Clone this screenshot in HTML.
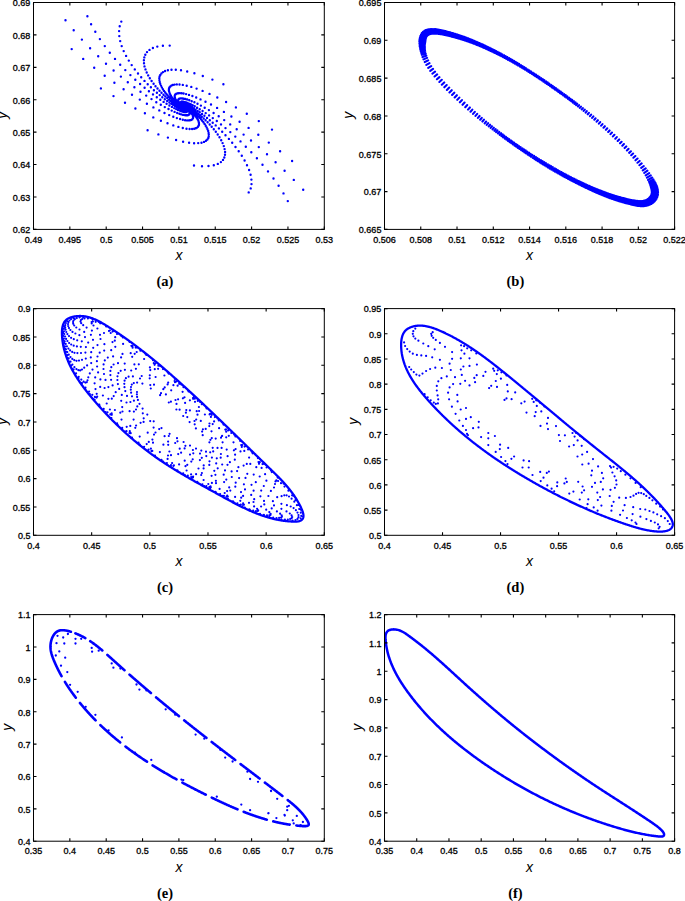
<!DOCTYPE html>
<html><head><meta charset="utf-8"><style>
html,body{margin:0;padding:0;background:#fff;width:685px;height:901px;overflow:hidden}
svg{display:block}
text{font-family:"Liberation Sans",sans-serif;fill:#000}
.tl text{font-size:9px;stroke:#000;stroke-width:0.3px}
.al{font-size:14px;font-style:italic}
.cap{font-family:"Liberation Serif",serif;font-weight:bold;font-size:14.5px}
</style></head><body>
<svg width="685" height="901" viewBox="0 0 685 901">
<clipPath id="clipa"><rect x="33.50" y="2.50" width="290.80" height="226.90"/></clipPath>
<g clip-path="url(#clipa)"><path d="M65.5 20.2h0M73.7 30.2h0M81.9 39.6h0M90.1 48.3h0M98.2 56.3h0M106.0 63.7h0M113.6 70.5h0M120.9 76.6h0M127.8 82.2h0M134.4 87.2h0M140.5 91.7h0M146.2 95.6h0M151.5 99.1h0M156.3 102.2h0M160.8 104.8h0M164.8 107.1h0M168.5 109.0h0M171.7 110.6h0M174.6 111.9h0M177.2 113.0h0M179.5 113.8h0M181.4 114.4h0M183.1 114.9h0M184.6 115.1h0M185.8 115.3h0M186.8 115.3h0M187.6 115.2h0M188.3 115.1h0M188.8 114.8h0M189.1 114.5h0M189.4 114.2h0M189.5 113.8h0M189.6 113.4h0M189.6 113.0h0M189.5 112.6h0M189.4 112.2h0M189.2 111.8h0M189.0 111.3h0M188.7 110.9h0M188.5 110.6h0M188.2 110.2h0M187.9 109.8h0M187.6 109.5h0M187.4 109.2h0M187.1 108.9h0M186.8 108.6h0M186.5 108.4h0M186.3 108.2h0M186.0 107.9h0M185.8 107.8h0M185.6 107.6h0M185.4 107.4h0M185.2 107.3h0M185.0 107.2h0M184.8 107.1h0M184.7 107.0h0M184.6 106.9h0M184.4 106.8h0M184.3 106.8h0M87.4 16.3h0M91.1 24.2h0M95.3 31.8h0M99.9 39.1h0M104.8 46.1h0M109.8 52.7h0M115.0 58.9h0M120.2 64.7h0M125.3 70.1h0M130.4 75.1h0M135.3 79.8h0M140.1 84.0h0M144.6 87.8h0M148.9 91.3h0M153.0 94.4h0M156.8 97.2h0M160.3 99.7h0M163.6 101.9h0M166.6 103.8h0M169.4 105.5h0M171.9 106.9h0M174.2 108.1h0M176.2 109.1h0M178.0 109.9h0M179.6 110.6h0M181.0 111.1h0M182.3 111.5h0M183.3 111.8h0M184.2 112.0h0M185.0 112.1h0M185.6 112.1h0M186.1 112.0h0M186.5 111.9h0M186.9 111.8h0M187.1 111.6h0M187.3 111.4h0M187.4 111.2h0M187.4 110.9h0M187.4 110.7h0M187.3 110.4h0M187.3 110.2h0M187.2 109.9h0M187.0 109.7h0M186.9 109.4h0M186.7 109.2h0M186.6 108.9h0M186.4 108.7h0M186.2 108.5h0M186.0 108.3h0M185.9 108.1h0M185.7 108.0h0M185.5 107.8h0M185.4 107.7h0M185.2 107.5h0M185.1 107.4h0M184.9 107.3h0M184.8 107.2h0M184.7 107.1h0M184.6 107.1h0M184.5 107.0h0M71.7 49.1h0M83.2 58.9h0M94.2 67.8h0M104.7 75.7h0M114.4 82.8h0M123.6 89.2h0M132.0 94.7h0M139.8 99.6h0M146.9 103.8h0M153.4 107.4h0M159.3 110.4h0M164.5 113.0h0M169.2 115.1h0M173.3 116.8h0M176.9 118.1h0M180.1 119.0h0M182.8 119.7h0M185.1 120.2h0M187.1 120.4h0M188.7 120.4h0M190.0 120.3h0M191.0 120.0h0M191.8 119.6h0M192.4 119.2h0M192.8 118.6h0M193.0 118.0h0M193.1 117.4h0M193.1 116.7h0M192.9 116.1h0M192.7 115.4h0M192.4 114.7h0M192.1 114.0h0M191.7 113.4h0M191.3 112.8h0M190.8 112.2h0M190.4 111.6h0M189.9 111.1h0M189.4 110.6h0M189.0 110.1h0M188.5 109.7h0M188.1 109.3h0M187.7 108.9h0M187.3 108.6h0M186.9 108.3h0M186.6 108.0h0M186.3 107.8h0M185.9 107.5h0M185.7 107.3h0M185.4 107.2h0M185.2 107.0h0M184.9 106.9h0M184.7 106.8h0M184.6 106.7h0M184.4 106.6h0M184.3 106.6h0M184.2 106.5h0M121.3 21.6h0M119.7 26.2h0M119.1 31.1h0M119.3 36.1h0M120.2 41.1h0M121.7 46.1h0M123.7 51.1h0M126.1 55.9h0M128.8 60.6h0M131.7 65.1h0M134.8 69.4h0M138.0 73.5h0M141.2 77.3h0M144.5 80.9h0M147.7 84.2h0M150.9 87.3h0M153.9 90.2h0M156.9 92.8h0M159.7 95.1h0M162.3 97.3h0M164.8 99.2h0M167.2 100.9h0M169.4 102.5h0M171.4 103.8h0M173.3 105.0h0M175.0 106.0h0M176.5 106.9h0M177.9 107.6h0M179.2 108.3h0M180.3 108.8h0M181.3 109.2h0M182.1 109.5h0M182.9 109.7h0M183.6 109.9h0M184.1 110.0h0M184.6 110.1h0M185.0 110.1h0M185.3 110.1h0M185.5 110.0h0M185.7 109.9h0M185.9 109.8h0M186.0 109.7h0M186.0 109.5h0M186.1 109.4h0M186.0 109.2h0M186.0 109.1h0M186.0 108.9h0M185.9 108.8h0M185.8 108.6h0M185.7 108.4h0M185.6 108.3h0M185.5 108.2h0M185.4 108.0h0M185.3 107.9h0M185.2 107.8h0M185.1 107.7h0M185.0 107.6h0M184.9 107.5h0M184.8 107.4h0M184.7 107.3h0M100.9 88.4h0M113.5 96.1h0M125.0 102.8h0M135.4 108.5h0M144.9 113.3h0M153.3 117.4h0M160.9 120.7h0M167.5 123.3h0M173.3 125.4h0M178.4 126.9h0M182.8 128.0h0M186.5 128.7h0M189.6 129.0h0M192.1 129.0h0M194.2 128.7h0M195.8 128.3h0M197.1 127.6h0M198.0 126.8h0M198.5 125.9h0M198.9 125.0h0M199.0 123.9h0M198.9 122.8h0M198.6 121.7h0M198.3 120.6h0M197.8 119.5h0M197.2 118.4h0M196.5 117.4h0M195.8 116.4h0M195.1 115.4h0M194.4 114.5h0M193.6 113.6h0M192.9 112.8h0M192.1 112.1h0M191.4 111.4h0M190.7 110.7h0M190.0 110.1h0M189.4 109.6h0M188.8 109.1h0M188.2 108.6h0M187.7 108.3h0M187.2 107.9h0M186.7 107.6h0M186.3 107.3h0M185.9 107.1h0M185.6 106.9h0M185.3 106.7h0M185.0 106.6h0M184.7 106.5h0M184.5 106.4h0M184.3 106.3h0M184.1 106.2h0M184.0 106.2h0M183.8 106.2h0M169.7 45.6h0M162.9 45.7h0M157.3 46.6h0M152.9 48.0h0M149.5 49.9h0M147.0 52.1h0M145.3 54.7h0M144.3 57.4h0M143.9 60.3h0M144.0 63.3h0M144.5 66.4h0M145.5 69.4h0M146.7 72.5h0M148.2 75.4h0M149.8 78.3h0M151.6 81.0h0M153.6 83.7h0M155.5 86.2h0M157.5 88.5h0M159.5 90.7h0M161.5 92.8h0M163.5 94.7h0M165.3 96.5h0M167.2 98.1h0M168.9 99.6h0M170.5 100.9h0M172.1 102.1h0M173.5 103.1h0M174.9 104.1h0M176.1 104.9h0M177.3 105.7h0M178.3 106.3h0M179.3 106.8h0M180.2 107.3h0M180.9 107.7h0M181.6 108.0h0M182.2 108.3h0M182.8 108.5h0M183.2 108.6h0M183.6 108.7h0M184.0 108.8h0M184.3 108.8h0M184.5 108.8h0M184.7 108.8h0M184.9 108.8h0M185.0 108.7h0M223.4 84.2h0M212.4 79.6h0M202.8 76.0h0M194.4 73.3h0M187.2 71.5h0M181.0 70.3h0M175.8 69.8h0M171.5 69.8h0M167.9 70.2h0M165.1 71.0h0M163.0 72.1h0M161.4 73.4h0M160.3 74.9h0M159.6 76.5h0M159.3 78.3h0M159.4 80.1h0M159.7 81.9h0M160.2 83.8h0M161.0 85.6h0M161.9 87.4h0M162.9 89.2h0M164.0 90.9h0M165.2 92.5h0M166.4 94.0h0M167.6 95.5h0M168.8 96.8h0M170.1 98.1h0M171.3 99.3h0M172.4 100.4h0M173.5 101.4h0M174.6 102.3h0M175.6 103.1h0M176.6 103.8h0M177.5 104.5h0M178.3 105.1h0M179.1 105.6h0M179.8 106.1h0M180.4 106.5h0M181.0 106.8h0M181.5 107.1h0M182.0 107.3h0M182.5 107.5h0M182.8 107.7h0M183.2 107.8h0M183.5 107.9h0M183.7 108.0h0M183.9 108.0h0M184.1 108.1h0M184.3 108.1h0M184.4 108.1h0M303.2 189.7h0M293.8 179.9h0M284.6 170.7h0M275.6 162.2h0M267.0 154.3h0M258.8 147.1h0M251.0 140.5h0M243.6 134.6h0M236.7 129.2h0M230.2 124.4h0M224.2 120.1h0M218.7 116.3h0M213.6 113.0h0M208.9 110.1h0M204.7 107.7h0M200.9 105.6h0M197.5 103.8h0M194.4 102.3h0M191.7 101.2h0M189.3 100.2h0M187.2 99.5h0M185.4 99.0h0M183.8 98.7h0M182.5 98.5h0M181.4 98.4h0M180.5 98.4h0M179.8 98.6h0M179.2 98.8h0M178.8 99.1h0M178.5 99.4h0M178.3 99.7h0M178.2 100.1h0M178.2 100.5h0M178.2 101.0h0M178.4 101.4h0M178.5 101.8h0M178.7 102.2h0M178.9 102.6h0M179.2 103.0h0M179.4 103.4h0M179.7 103.8h0M180.0 104.1h0M180.3 104.4h0M180.6 104.7h0M180.9 105.0h0M181.1 105.3h0M181.4 105.5h0M181.6 105.7h0M181.9 105.9h0M182.1 106.1h0M182.3 106.3h0M182.5 106.4h0M182.7 106.5h0M182.9 106.7h0M183.0 106.7h0M183.2 106.8h0M183.3 106.9h0M183.4 107.0h0M287.8 201.1h0M283.5 193.4h0M278.6 185.8h0M273.5 178.5h0M268.0 171.4h0M262.5 164.7h0M256.9 158.3h0M251.3 152.3h0M245.8 146.7h0M240.5 141.4h0M235.3 136.6h0M230.3 132.1h0M225.5 128.1h0M221.0 124.4h0M216.8 121.0h0M212.8 118.1h0M209.1 115.4h0M205.7 113.1h0M202.6 111.0h0M199.7 109.2h0M197.1 107.7h0M194.7 106.3h0M192.6 105.2h0M190.7 104.3h0M189.0 103.6h0M187.5 103.0h0M186.2 102.5h0M185.0 102.2h0M184.0 101.9h0M183.2 101.8h0M182.5 101.7h0M181.9 101.8h0M181.5 101.8h0M181.1 101.9h0M180.8 102.1h0M180.6 102.3h0M180.5 102.5h0M180.4 102.7h0M180.4 103.0h0M180.4 103.2h0M180.5 103.5h0M180.6 103.7h0M180.7 104.0h0M180.8 104.2h0M181.0 104.5h0M181.2 104.7h0M181.3 104.9h0M181.5 105.2h0M181.7 105.4h0M181.8 105.5h0M182.0 105.7h0M182.2 105.9h0M182.3 106.0h0M182.5 106.2h0M182.6 106.3h0M182.8 106.4h0M182.9 106.5h0M183.0 106.6h0M183.1 106.7h0M183.2 106.7h0M292.1 161.0h0M280.1 151.3h0M268.8 142.6h0M258.3 134.8h0M248.6 127.9h0M239.6 121.8h0M231.4 116.5h0M223.9 111.9h0M217.1 107.9h0M211.0 104.5h0M205.5 101.7h0M200.5 99.4h0M196.2 97.5h0M192.4 96.0h0M189.0 94.9h0M186.1 94.1h0M183.6 93.5h0M181.6 93.2h0M179.8 93.1h0M178.4 93.2h0M177.2 93.4h0M176.3 93.8h0M175.6 94.2h0M175.2 94.8h0M174.9 95.3h0M174.7 96.0h0M174.7 96.6h0M174.8 97.3h0M174.9 98.0h0M175.2 98.7h0M175.5 99.4h0M175.9 100.0h0M176.3 100.7h0M176.7 101.3h0M177.2 101.9h0M177.6 102.4h0M178.1 102.9h0M178.6 103.4h0M179.0 103.9h0M179.4 104.3h0M179.9 104.7h0M180.3 105.0h0M180.7 105.4h0M181.0 105.6h0M181.4 105.9h0M181.7 106.1h0M182.0 106.3h0M182.3 106.5h0M182.5 106.7h0M182.7 106.8h0M182.9 106.9h0M183.1 107.0h0M183.3 107.1h0M183.4 107.2h0M183.6 107.2h0M183.7 107.3h0M272.0 129.6h0M258.8 121.1h0M246.8 113.7h0M235.9 107.4h0M226.1 102.0h0M217.3 97.5h0M209.5 93.9h0M202.6 90.9h0M196.6 88.6h0M191.3 86.9h0M186.7 85.7h0M182.8 84.9h0M179.5 84.5h0M176.8 84.4h0M174.5 84.6h0M172.7 85.0h0M171.3 85.6h0M170.3 86.4h0M169.6 87.3h0M169.1 88.2h0M168.9 89.3h0M168.9 90.4h0M169.1 91.5h0M169.4 92.6h0M169.8 93.7h0M170.4 94.8h0M171.0 95.9h0M171.6 96.9h0M172.3 97.9h0M173.1 98.9h0M173.8 99.8h0M174.6 100.6h0M175.3 101.4h0M176.1 102.1h0M176.8 102.8h0M177.5 103.4h0M178.1 104.0h0M178.7 104.5h0M179.3 104.9h0M179.9 105.4h0M180.4 105.7h0M180.9 106.1h0M181.3 106.3h0M181.7 106.6h0M182.1 106.8h0M182.4 107.0h0M182.7 107.1h0M183.0 107.3h0M183.2 107.4h0M183.4 107.4h0M183.6 107.5h0M183.7 107.6h0M183.9 107.6h0M248.7 192.4h0M250.7 188.4h0M251.5 184.1h0M251.4 179.6h0M250.6 174.8h0M249.1 170.0h0M247.0 165.2h0M244.6 160.5h0M241.8 155.8h0M238.7 151.3h0M235.5 147.0h0M232.2 142.8h0M228.9 138.9h0M225.5 135.2h0M222.2 131.7h0M218.9 128.4h0M215.7 125.4h0M212.7 122.7h0M209.8 120.2h0M207.0 117.9h0M204.4 115.8h0M202.0 114.0h0M199.7 112.3h0M197.6 110.9h0M195.6 109.6h0M193.8 108.4h0M192.2 107.5h0M190.7 106.7h0M189.4 106.0h0M188.2 105.4h0M187.1 104.9h0M186.2 104.5h0M185.4 104.2h0M184.7 104.0h0M184.1 103.9h0M183.5 103.8h0M183.1 103.7h0M182.7 103.7h0M182.5 103.8h0M182.2 103.8h0M182.0 103.9h0M181.9 104.0h0M181.8 104.2h0M181.8 104.3h0M181.8 104.5h0M181.8 104.6h0M181.8 104.8h0M181.9 104.9h0M181.9 105.1h0M182.0 105.2h0M182.1 105.4h0M182.2 105.5h0M182.3 105.7h0M182.4 105.8h0M182.5 105.9h0M182.6 106.0h0M182.7 106.2h0M182.8 106.3h0M182.9 106.3h0M183.0 106.4h0M194.0 165.5h0M202.0 166.2h0M208.5 166.0h0M213.8 165.2h0M217.8 163.9h0M220.9 162.1h0M223.0 159.9h0M224.3 157.5h0M225.0 154.8h0M225.1 152.0h0M224.6 149.1h0M223.8 146.1h0M222.6 143.1h0M221.2 140.2h0M219.5 137.3h0M217.7 134.5h0M215.8 131.8h0M213.8 129.2h0M211.7 126.8h0M209.7 124.5h0M207.6 122.3h0M205.6 120.3h0M203.7 118.5h0M201.8 116.8h0M200.0 115.2h0M198.3 113.8h0M196.7 112.5h0M195.2 111.3h0M193.7 110.3h0M192.4 109.4h0M191.2 108.6h0M190.1 107.9h0M189.1 107.3h0M188.2 106.8h0M187.3 106.3h0M186.6 106.0h0M185.9 105.7h0M185.4 105.4h0M184.8 105.3h0M184.4 105.1h0M184.0 105.0h0M183.7 105.0h0M183.4 104.9h0M183.2 104.9h0M183.0 105.0h0M182.9 105.0h0M182.8 105.1h0M147.6 130.2h0M158.4 134.4h0M167.9 137.6h0M176.1 140.0h0M183.1 141.7h0M189.1 142.7h0M194.1 143.2h0M198.2 143.1h0M201.5 142.7h0M204.0 141.9h0M206.0 140.8h0M207.4 139.5h0M208.3 138.0h0M208.7 136.4h0M208.8 134.6h0M208.6 132.9h0M208.2 131.0h0M207.5 129.2h0M206.7 127.4h0M205.7 125.7h0M204.6 123.9h0M203.4 122.3h0M202.2 120.7h0M201.0 119.2h0M199.7 117.8h0M198.5 116.5h0M197.3 115.2h0M196.1 114.1h0M194.9 113.0h0M193.8 112.1h0M192.8 111.2h0M191.8 110.4h0M190.9 109.7h0M190.0 109.0h0M189.2 108.5h0M188.5 108.0h0M187.8 107.6h0M187.1 107.2h0M186.6 106.9h0M186.1 106.6h0M185.6 106.4h0M185.2 106.2h0M184.8 106.0h0M184.5 105.9h0M184.2 105.8h0M184.0 105.8h0M183.8 105.7h0M183.6 105.7h0M183.5 105.7h0" stroke="#0000ff" stroke-width="2.40" stroke-linecap="round" fill="none"/></g>
<path d="M33.50 229.40v-3.0M33.50 2.50v3.0M69.85 229.40v-3.0M69.85 2.50v3.0M106.20 229.40v-3.0M106.20 2.50v3.0M142.55 229.40v-3.0M142.55 2.50v3.0M178.90 229.40v-3.0M178.90 2.50v3.0M215.25 229.40v-3.0M215.25 2.50v3.0M251.60 229.40v-3.0M251.60 2.50v3.0M287.95 229.40v-3.0M287.95 2.50v3.0M324.30 229.40v-3.0M324.30 2.50v3.0M33.50 229.40h3.0M324.30 229.40h-3.0M33.50 196.99h3.0M324.30 196.99h-3.0M33.50 164.57h3.0M324.30 164.57h-3.0M33.50 132.16h3.0M324.30 132.16h-3.0M33.50 99.74h3.0M324.30 99.74h-3.0M33.50 67.33h3.0M324.30 67.33h-3.0M33.50 34.91h3.0M324.30 34.91h-3.0M33.50 2.50h3.0M324.30 2.50h-3.0" stroke="#000" stroke-width="1.1" fill="none"/>
<rect x="33.50" y="2.50" width="290.80" height="226.90" fill="none" stroke="#000" stroke-width="1"/>
<g class="tl"><text x="33.50" y="242.60" text-anchor="middle">0.49</text><text x="69.85" y="242.60" text-anchor="middle">0.495</text><text x="106.20" y="242.60" text-anchor="middle">0.5</text><text x="142.55" y="242.60" text-anchor="middle">0.505</text><text x="178.90" y="242.60" text-anchor="middle">0.51</text><text x="215.25" y="242.60" text-anchor="middle">0.515</text><text x="251.60" y="242.60" text-anchor="middle">0.52</text><text x="287.95" y="242.60" text-anchor="middle">0.525</text><text x="324.30" y="242.60" text-anchor="middle">0.53</text><text x="30.40" y="233.20" text-anchor="end">0.62</text><text x="30.40" y="200.79" text-anchor="end">0.63</text><text x="30.40" y="168.37" text-anchor="end">0.64</text><text x="30.40" y="135.96" text-anchor="end">0.65</text><text x="30.40" y="103.54" text-anchor="end">0.66</text><text x="30.40" y="71.13" text-anchor="end">0.67</text><text x="30.40" y="38.71" text-anchor="end">0.68</text><text x="30.40" y="6.30" text-anchor="end">0.69</text></g>
<text class="al" x="178.90" y="259.90" text-anchor="middle">x</text>
<text class="al" x="0" y="0" text-anchor="middle" transform="translate(6.70 115.25) rotate(-90)">y</text>
<text class="cap" x="165.00" y="286.40" text-anchor="middle">(a)</text>
<clipPath id="clipb"><rect x="384.50" y="2.50" width="290.10" height="226.90"/></clipPath>
<g clip-path="url(#clipb)"><path d="M419.32 41.17L425.35 41.67M419.44 39.84L425.47 40.60M419.67 38.49L425.61 39.58M419.95 37.27L425.78 38.73M420.39 35.85L426.02 37.84M421.02 34.40L426.33 37.07M421.91 32.96L426.69 36.45M423.12 31.68L427.08 35.93M424.51 30.70L427.59 35.43M425.96 30.00L428.26 34.97M427.40 29.52L429.06 34.57M428.82 29.22L429.96 34.24M430.22 29.04L430.93 33.98M431.58 28.97L431.96 33.79M432.93 28.98L433.03 33.66M434.24 29.02L434.12 33.63M435.54 29.12L435.23 33.64M436.82 29.27L436.36 33.70M438.08 29.47L437.49 33.80M439.32 29.69L438.63 33.93M440.55 29.94L439.78 34.09M441.76 30.22L440.94 34.27M442.96 30.51L442.10 34.48M444.15 30.81L443.26 34.70M445.33 31.13L444.43 34.93M446.50 31.43L445.60 35.19M447.68 31.74L446.76 35.45M448.86 32.06L447.92 35.72M450.03 32.38L449.08 36.00M451.20 32.71L450.24 36.29M452.52 33.09L451.55 36.62M453.68 33.43L452.70 36.92M454.99 33.83L454.00 37.26M456.30 34.23L455.30 37.62M457.46 34.60L456.45 37.94M458.76 35.02L457.74 38.32M460.06 35.46L459.03 38.70M461.35 35.90L460.32 39.09M462.65 36.34L461.60 39.49M464.08 36.85L463.02 39.94M465.36 37.32L464.30 40.36M466.64 37.79L465.58 40.78M468.07 38.33L467.00 41.27M469.48 38.88L468.41 41.76M470.89 39.43L469.82 42.27M472.16 39.94L471.08 42.73M473.56 40.52L472.48 43.25M474.96 41.10L473.88 43.78M476.50 41.76L475.42 44.38M477.89 42.36L476.81 44.93M479.27 42.97L478.20 45.49M480.80 43.65L479.73 46.12M482.32 44.33L481.25 46.76M483.69 44.96L482.62 47.36M485.21 45.66L484.14 48.02M486.71 46.36L485.64 48.69M488.22 47.08L487.15 49.37M489.72 47.80L488.65 50.05M491.35 48.60L490.28 50.82M492.84 49.35L491.77 51.52M494.46 50.16L493.40 52.30M495.94 50.92L494.88 53.02M497.55 51.76L496.50 53.82M499.15 52.60L498.11 54.62M500.76 53.45L499.72 55.44M502.35 54.32L501.32 56.26M504.08 55.26L503.05 57.17M505.66 56.14L504.65 58.01M507.25 57.02L506.24 58.86M508.95 57.99L507.95 59.79M510.66 58.97L509.67 60.73M512.36 59.96L511.38 61.67M514.05 60.95L513.08 62.63M515.74 61.95L514.78 63.59M517.43 62.96L516.47 64.57M519.11 63.97L518.16 65.56M520.91 65.07L519.97 66.63M522.59 66.09L521.65 67.63M524.26 67.13L523.32 68.64M525.92 68.17L524.99 69.66M527.71 69.29L526.79 70.76M529.36 70.35L528.45 71.80M531.02 71.40L530.10 72.84M532.80 72.54L531.88 73.97M534.44 73.61L533.52 75.03M536.09 74.68L535.16 76.10M537.73 75.75L536.80 77.17M539.49 76.91L538.56 78.33M541.13 78.00L540.18 79.41M542.76 79.09L541.81 80.50M544.39 80.18L543.43 81.59M546.13 81.37L545.18 82.77M547.75 82.47L546.79 83.88M549.37 83.58L548.41 84.98M551.11 84.78L550.14 86.18M552.72 85.90L551.75 87.29M554.33 87.02L553.36 88.41M555.94 88.14L554.96 89.53M557.66 89.36L556.68 90.75M559.26 90.49L558.28 91.88M560.86 91.63L559.87 93.02M562.45 92.78L561.46 94.16M564.17 94.01L563.17 95.39M565.75 95.16L564.75 96.54M567.34 96.32L566.33 97.69M569.04 97.57L568.03 98.94M570.61 98.74L569.60 100.11M572.19 99.91L571.17 101.28M573.88 101.17L572.85 102.55M575.57 102.44L574.52 103.83M577.26 103.71L576.19 105.11M579.06 105.09L577.98 106.49M580.97 106.56L579.87 107.97M582.88 108.04L581.76 109.46M584.78 109.53L583.65 110.96M586.80 111.12L585.64 112.56M588.92 112.81L587.74 114.27M591.15 114.62L589.95 116.08M593.37 116.43L592.15 117.90M595.58 118.26L594.34 119.74M597.90 120.20L596.63 121.69M600.20 122.15L598.91 123.66M602.49 124.13L601.17 125.63M604.88 126.21L603.53 127.73M607.25 128.32L605.88 129.84M609.61 130.44L608.21 131.97M611.95 132.58L610.52 134.12M614.39 134.84L612.93 136.39M616.80 137.12L615.31 138.68M619.20 139.43L617.67 140.99M621.58 141.75L620.02 143.32M623.93 144.10L622.34 145.67M626.26 146.47L624.63 148.05M628.58 148.86L626.91 150.44M630.89 151.26L629.13 152.88M633.07 153.57L631.22 155.24M635.33 156.02L633.37 157.74M637.54 158.53L635.47 160.27M639.61 160.96L637.43 162.72M641.64 163.42L639.32 165.22M643.79 166.00L641.17 167.93M645.69 168.39L642.77 170.44M647.46 170.71L644.24 172.85M649.16 173.07L645.66 175.29M650.73 175.34L646.94 177.63M652.23 177.50L648.04 179.89M653.50 179.47L648.95 181.88M654.56 181.24L649.66 183.61M655.48 182.93L650.25 185.20M656.20 184.40L650.66 186.52M656.79 185.78L650.99 187.70M657.21 187.06L651.27 188.72M657.57 188.40L651.50 189.72M657.85 189.78L651.65 190.71M658.04 191.22L651.73 191.66M658.10 192.72L651.73 192.57M658.00 194.27L651.64 193.43M657.77 195.65L651.48 194.12M657.29 197.21L651.25 194.86M656.59 198.67L650.93 195.59M655.74 200.00L650.50 196.30M654.76 201.20L649.98 196.98M653.68 202.28L649.38 197.63M652.52 203.23L648.70 198.22M651.25 204.00L647.99 198.83M649.93 204.65L647.21 199.37M648.57 205.18L646.38 199.86M647.19 205.58L645.50 200.28M645.78 205.87L644.58 200.63M644.37 206.07L643.62 200.87M642.99 206.18L642.61 201.01M641.63 206.20L641.56 201.10M640.29 206.15L640.48 201.12M638.99 206.03L639.39 201.09M637.70 205.86L638.27 201.02M636.44 205.66L637.14 200.91M635.20 205.42L636.00 200.76M633.98 205.16L634.85 200.59M632.77 204.88L633.69 200.40M631.58 204.60L632.52 200.20M630.39 204.32L631.36 199.96M629.21 204.04L630.19 199.72M628.02 203.75L629.03 199.47M626.84 203.44L627.87 199.21M625.66 203.14L626.71 198.94M624.48 202.82L625.55 198.66M623.30 202.49L624.39 198.38M622.13 202.16L623.24 198.09M620.81 201.78L621.94 197.75M619.64 201.42L620.79 197.44M618.48 201.07L619.64 197.12M617.17 200.65L618.35 196.75M616.01 200.28L617.21 196.42M614.71 199.85L615.92 196.03M613.55 199.46L614.78 195.68M612.26 199.01L613.50 195.28M611.11 198.60L612.37 194.91M609.82 198.14L611.09 194.49M608.53 197.67L609.82 194.06M607.25 197.18L608.55 193.62M606.12 196.75L607.42 193.23M604.84 196.25L606.16 192.77M603.57 195.74L604.90 192.31M602.30 195.23L603.63 191.84M600.90 194.65L602.24 191.31M599.64 194.13L600.98 190.82M598.38 193.59L599.73 190.33M596.99 192.99L598.34 189.77M595.74 192.44L597.09 189.27M594.36 191.83L595.71 188.70M592.97 191.21L594.32 188.12M591.73 190.64L593.08 187.59M590.36 190.01L591.70 187.00M588.98 189.37L590.33 186.40M587.61 188.73L588.96 185.79M586.10 188.03L587.45 185.11M584.74 187.37L586.09 184.49M583.24 186.65L584.59 183.80M581.88 185.99L583.23 183.17M580.38 185.25L581.74 182.46M578.89 184.51L580.24 181.75M577.41 183.76L578.76 181.04M575.92 183.01L577.27 180.32M574.31 182.18L575.66 179.52M572.83 181.41L574.18 178.79M571.23 180.57L572.57 177.98M569.62 179.72L570.96 177.16M568.02 178.87L569.36 176.33M566.42 178.01L567.77 175.49M564.83 177.15L566.18 174.64M563.23 176.28L564.59 173.79M561.51 175.33L562.87 172.86M559.93 174.45L561.29 172.00M558.22 173.48L559.58 171.05M556.51 172.51L557.87 170.10M554.81 171.53L556.17 169.14M553.24 170.62L554.61 168.25M551.41 169.55L552.78 167.20M549.72 168.55L551.09 166.22M548.04 167.53L549.40 165.24M546.36 166.51L547.72 164.26M544.56 165.41L545.91 163.18M542.89 164.37L544.23 162.18M541.23 163.33L542.55 161.18M539.57 162.28L540.88 160.16M537.78 161.15L539.09 159.06M536.13 160.09L537.43 158.03M534.48 159.02L535.77 157.00M532.84 157.95L534.11 155.96M531.07 156.79L532.34 154.83M529.43 155.70L530.69 153.78M527.79 154.62L529.05 152.71M526.04 153.45L527.29 151.56M524.41 152.36L525.66 150.48M522.78 151.25L524.03 149.39M521.16 150.15L522.41 148.31M519.42 148.95L520.67 147.12M517.80 147.84L519.05 146.02M516.19 146.71L517.44 144.92M514.59 145.59L515.83 143.80M512.86 144.37L514.11 142.60M511.26 143.23L512.51 141.48M509.67 142.08L510.91 140.35M507.96 140.85L509.19 139.13M506.37 139.69L507.60 137.99M504.78 138.53L506.02 136.84M503.08 137.29L504.32 135.59M501.50 136.12L502.75 134.43M499.80 134.86L501.06 133.18M497.99 133.50L499.25 131.82M496.18 132.14L497.45 130.46M494.38 130.77L495.66 129.10M492.59 129.38L493.87 127.72M490.67 127.92L491.98 126.23M488.75 126.45L490.11 124.73M486.72 124.88L488.12 123.11M484.69 123.31L486.15 121.49M482.44 121.53L483.95 119.67M480.19 119.74L481.77 117.83M477.96 117.93L479.59 115.98M475.51 115.92L477.20 113.92M473.07 113.89L474.83 111.84M470.53 111.74L472.35 109.65M468.00 109.58L469.90 107.43M465.27 107.19L467.23 105.01M462.57 104.77L464.58 102.57M459.88 102.32L461.95 100.10M457.22 99.86L459.34 97.62M454.69 97.48L456.86 95.22M452.06 94.97L454.29 92.69M449.46 92.44L451.75 90.14M446.88 89.89L449.22 87.57M444.33 87.30L446.70 85.00M441.82 84.67L444.22 82.40M439.34 81.99L441.78 79.77M436.91 79.26L439.41 77.10M434.54 76.47L437.13 74.35M432.34 73.72L435.03 71.66M430.23 70.88L433.04 68.91M428.24 67.94L431.18 66.08M426.36 64.92L429.51 63.16M424.77 62.06L428.16 60.41M423.48 59.38L427.09 57.87M422.51 57.06L426.32 55.70M421.72 54.82L425.71 53.64M421.18 52.99L425.31 51.98M420.68 51.14L425.04 50.30M420.27 49.58L424.93 48.88M419.94 48.00L424.88 47.48M419.68 46.40L424.89 46.08M419.50 44.94L424.96 44.83M419.38 43.47L425.07 43.58M419.33 41.99L425.23 42.35" stroke="#0000ff" stroke-width="2.10" stroke-linecap="round" fill="none"/></g>
<path d="M384.50 229.40v-3.0M384.50 2.50v3.0M420.76 229.40v-3.0M420.76 2.50v3.0M457.02 229.40v-3.0M457.02 2.50v3.0M493.29 229.40v-3.0M493.29 2.50v3.0M529.55 229.40v-3.0M529.55 2.50v3.0M565.81 229.40v-3.0M565.81 2.50v3.0M602.08 229.40v-3.0M602.08 2.50v3.0M638.34 229.40v-3.0M638.34 2.50v3.0M674.60 229.40v-3.0M674.60 2.50v3.0M384.50 229.40h3.0M674.60 229.40h-3.0M384.50 191.58h3.0M674.60 191.58h-3.0M384.50 153.77h3.0M674.60 153.77h-3.0M384.50 115.95h3.0M674.60 115.95h-3.0M384.50 78.13h3.0M674.60 78.13h-3.0M384.50 40.32h3.0M674.60 40.32h-3.0M384.50 2.50h3.0M674.60 2.50h-3.0" stroke="#000" stroke-width="1.1" fill="none"/>
<rect x="384.50" y="2.50" width="290.10" height="226.90" fill="none" stroke="#000" stroke-width="1"/>
<g class="tl"><text x="384.50" y="242.60" text-anchor="middle">0.506</text><text x="420.76" y="242.60" text-anchor="middle">0.508</text><text x="457.02" y="242.60" text-anchor="middle">0.51</text><text x="493.29" y="242.60" text-anchor="middle">0.512</text><text x="529.55" y="242.60" text-anchor="middle">0.514</text><text x="565.81" y="242.60" text-anchor="middle">0.516</text><text x="602.08" y="242.60" text-anchor="middle">0.518</text><text x="638.34" y="242.60" text-anchor="middle">0.52</text><text x="674.60" y="242.60" text-anchor="middle">0.522</text><text x="381.40" y="233.20" text-anchor="end">0.665</text><text x="381.40" y="195.38" text-anchor="end">0.67</text><text x="381.40" y="157.57" text-anchor="end">0.675</text><text x="381.40" y="119.75" text-anchor="end">0.68</text><text x="381.40" y="81.93" text-anchor="end">0.685</text><text x="381.40" y="44.12" text-anchor="end">0.69</text><text x="381.40" y="6.30" text-anchor="end">0.695</text></g>
<text class="al" x="529.55" y="259.90" text-anchor="middle">x</text>
<text class="al" x="0" y="0" text-anchor="middle" transform="translate(352.80 115.25) rotate(-90)">y</text>
<text class="cap" x="515.40" y="286.40" text-anchor="middle">(b)</text>
<clipPath id="clipc"><rect x="33.50" y="308.60" width="290.80" height="226.70"/></clipPath>
<g clip-path="url(#clipc)"><path d="M62.04 335.57L62.01 335.02L61.99 334.47L61.98 333.92L61.97 333.37L61.96 332.82L61.96 332.27L61.97 331.72L61.99 331.17L62.02 330.62L62.05 330.07L62.10 329.52L62.16 328.97L62.22 328.43L62.30 327.88L62.40 327.34L62.51 326.80L62.63 326.26L62.77 325.73L62.92 325.20L63.10 324.68L63.29 324.16L63.51 323.66L63.74 323.16L64.00 322.67L64.28 322.20L64.59 321.74L64.91 321.30L65.26 320.87L65.64 320.47L66.03 320.08L66.44 319.72L66.88 319.38L67.33 319.06L67.79 318.77L68.27 318.50L68.76 318.25L69.26 318.01L69.77 317.80L70.28 317.60L70.80 317.41L71.32 317.24L71.85 317.08L72.38 316.94L72.92 316.81L73.45 316.69L73.99 316.58L74.54 316.48L75.08 316.39L75.62 316.31L76.17 316.24L76.72 316.18L77.27 316.12L77.81 316.08L78.36 316.05L78.91 316.03L79.46 316.01L80.02 316.01L80.57 316.02L81.12 316.03L81.67 316.06L82.22 316.09L82.76 316.14L83.31 316.19L83.86 316.25L84.41 316.33L84.95 316.41L85.49 316.50L86.04 316.59L86.58 316.70L87.11 316.82L87.65 316.94L88.19 317.07L88.72 317.21L89.25 317.36L89.78 317.51L90.31 317.67L90.83 317.84L91.35 318.01L91.87 318.19L92.39 318.38L92.91 318.57L93.42 318.77L93.93 318.98L94.44 319.19L94.95 319.41L95.45 319.63L95.95 319.85L96.45 320.08L96.95 320.32L97.45 320.56L97.94 320.80L98.43 321.05L98.92 321.30L99.41 321.56L99.90 321.81L100.38 322.08L100.86 322.34L101.34 322.61L101.82 322.88L102.30 323.15L102.78 323.43L103.25 323.70L103.73 323.98L104.20 324.27L104.67 324.55L105.14 324.84L105.62 325.12L106.08 325.41L106.55 325.70L107.02 325.99L107.49 326.28L107.95 326.58L108.42 326.87L108.89 327.16L109.35 327.46L109.82 327.75L110.28 328.05L110.74 328.35L111.21 328.64L111.67 328.94L112.13 329.24L112.59 329.54L113.06 329.84L113.52 330.14L113.98 330.44L114.44 330.74L114.90 331.05L115.36 331.35L115.82 331.65L116.28 331.96L116.73 332.27L117.19 332.57L117.65 332.88L118.11 333.19L118.56 333.49L119.02 333.80L119.47 334.11L119.93 334.42L120.38 334.73L120.84 335.04L121.29 335.36L121.74 335.67L122.20 335.98L122.65 336.30L123.10 336.61L123.55 336.92L124.01 337.24L124.46 337.56L124.91 337.87L125.36 338.19L125.81 338.51L126.26 338.83L126.70 339.15L127.15 339.47L127.60 339.79L128.05 340.11L128.50 340.43L128.94 340.75L129.39 341.07L129.83 341.40L130.28 341.72L130.72 342.04L131.17 342.37L131.61 342.69L132.06 343.02L132.50 343.35L132.94 343.67L133.39 344.00L133.83 344.33L134.27 344.66L134.71 344.99L135.15 345.32L135.59 345.65L136.03 345.98L136.47 346.31L136.91 346.64L137.35 346.97L137.79 347.31L138.23 347.64L138.67 347.97L139.10 348.31L139.54 348.64L139.98 348.98L140.41 349.31L140.85 349.65L141.29 349.99L141.72 350.33L142.16 350.66L142.59 351.00L143.03 351.34L143.46 351.68L143.89 352.02L144.33 352.36L144.76 352.70L145.19 353.04L145.62 353.38L146.05 353.72L146.49 354.07L146.92 354.41L147.35 354.75L147.78 355.10L148.21 355.44L148.64 355.79L149.07 356.13L149.49 356.48L149.92 356.82L150.35 357.17L150.78 357.52L151.21 357.86L151.63 358.21L152.06 358.56L152.49 358.91L152.91 359.26L153.34 359.60L153.76 359.95L154.19 360.30L154.61 360.65L155.04 361.01L155.46 361.36L155.89 361.71L156.31 362.06L156.73 362.41L157.16 362.76L157.58 363.12L158.00 363.47L158.42 363.83L158.84 364.18L159.27 364.53L159.69 364.89L160.11 365.24L160.53 365.60L160.95 365.96L161.37 366.31L161.79 366.67L162.21 367.02L162.63 367.38L163.05 367.74L163.46 368.10L163.88 368.46L164.30 368.81L164.72 369.17L165.14 369.53L165.55 369.89L165.97 370.25L166.39 370.61L166.80 370.97L167.22 371.33L167.63 371.69L168.05 372.06L168.46 372.42L168.88 372.78L169.29 373.14L169.71 373.50L170.12 373.87L170.54 374.23L170.95 374.59L171.36 374.96L171.78 375.32L172.19 375.68L172.60 376.05L173.02 376.41L173.43 376.78L173.84 377.14L174.25 377.51L174.66 377.88L175.08 378.24L175.49 378.61L175.90 378.97L176.31 379.34L176.72 379.71L177.13 380.07L177.54 380.44L177.95 380.81L178.36 381.18L178.77 381.55L179.18 381.91L179.59 382.28L180.00 382.65L180.41 383.02L180.82 383.39L181.22 383.76L181.63 384.13L182.04 384.50L182.45 384.87L182.86 385.24L183.26 385.61L183.67 385.98L184.08 386.35L184.49 386.72L184.89 387.09L185.30 387.46L185.71 387.83L186.11 388.21L186.52 388.58L186.92 388.95L187.33 389.32L187.74 389.69L188.14 390.07L188.55 390.44L188.95 390.81L189.36 391.18L189.76 391.56L190.17 391.93L190.57 392.30L190.98 392.68L191.38 393.05L191.79 393.42L192.19 393.80L192.59 394.17L193.00 394.55L193.40 394.92L193.81 395.30L194.21 395.67L194.61 396.04L195.02 396.42L195.42 396.79L195.82 397.17L196.23 397.55L196.63 397.92L197.03 398.30L197.43 398.67L197.84 399.05L198.24 399.42L198.64 399.80L199.04 400.18L199.44 400.55L199.85 400.93L200.25 401.31L200.65 401.68L201.05 402.06L201.45 402.44L201.85 402.81L202.26 403.19L202.66 403.57L203.06 403.95L203.46 404.32L203.86 404.70L204.26 405.08L204.66 405.46L205.06 405.83L205.46 406.21L205.86 406.59L206.26 406.97L206.66 407.35L207.06 407.73L207.46 408.11L207.86 408.48L208.26 408.86L208.66 409.24L209.06 409.62L209.46 410.00L209.86 410.38L210.26 410.76L210.65 411.14L211.05 411.52L211.45 411.90L211.85 412.28L212.25 412.66L212.65 413.04L213.05 413.42L213.44 413.80L213.84 414.18L214.24 414.56L214.64 414.94L215.04 415.32L215.43 415.70L215.83 416.08L216.23 416.46L216.63 416.84L217.03 417.23L217.42 417.61L217.82 417.99L218.22 418.37L218.61 418.75L219.01 419.13L219.41 419.51L219.81 419.90L220.20 420.28L220.60 420.66L221.00 421.04L221.39 421.42L221.79 421.80L222.19 422.19L222.58 422.57L222.98 422.95L223.38 423.33L223.77 423.72L224.17 424.10L224.56 424.48L224.96 424.86L225.36 425.25L225.75 425.63L226.15 426.01L226.54 426.39L226.94 426.78L227.34 427.16L227.73 427.54L228.13 427.93L228.52 428.31L228.92 428.69L229.31 429.08L229.71 429.46L230.10 429.84L230.50 430.23L230.89 430.61L231.29 430.99L231.69 431.38L232.08 431.76L232.48 432.14L232.87 432.53L233.27 432.91L233.66 433.29L234.05 433.68L234.45 434.06L234.84 434.45L235.24 434.83L235.63 435.21L236.03 435.60L236.42 435.98L236.82 436.37L237.21 436.75L237.61 437.13L238.00 437.52L238.40 437.90L238.79 438.29L239.18 438.67L239.58 439.06L239.97 439.44L240.37 439.83L240.76 440.21L241.16 440.59L241.55 440.98L241.94 441.36L242.34 441.75L242.73 442.13L243.13 442.52L243.52 442.90L243.92 443.29L244.31 443.67L244.70 444.06L245.10 444.44L245.49 444.82L245.89 445.21L246.28 445.59L246.67 445.98L247.07 446.36L247.46 446.75L247.86 447.13L248.25 447.52L248.64 447.90L249.04 448.29L249.43 448.67L249.82 449.06L250.22 449.44L250.61 449.83L251.01 450.21L251.40 450.60L251.79 450.98L252.19 451.37L252.58 451.75L252.98 452.14L253.37 452.52L253.76 452.91L254.16 453.29L254.55 453.68L254.95 454.06L255.34 454.44L255.73 454.83L256.13 455.21L256.52 455.60L256.91 455.98L257.31 456.37L257.70 456.75L258.10 457.14L258.49 457.52L258.88 457.91L259.28 458.29L259.67 458.68L260.07 459.06L260.46 459.45L260.85 459.83L261.25 460.22L261.64 460.60L262.04 460.99L262.43 461.37L262.83 461.75L263.22 462.14L263.61 462.52L264.01 462.91L264.40 463.29L264.80 463.68L265.19 464.06L265.59 464.44L265.98 464.83L266.37 465.21L266.77 465.60L267.16 465.98L267.56 466.37L267.95 466.75L268.35 467.13L268.74 467.52L269.14 467.90L269.53 468.29L269.93 468.67L270.32 469.05L270.72 469.44L271.11 469.82L271.51 470.21L271.90 470.59L272.29 470.97L272.69 471.36L273.08 471.74L273.48 472.13L273.87 472.51L274.26 472.90L274.65 473.29L275.05 473.67L275.44 474.06L275.83 474.45L276.22 474.84L276.61 475.22L277.00 475.61L277.39 476.00L277.78 476.40L278.16 476.79L278.55 477.18L278.94 477.57L279.32 477.97L279.70 478.36L280.09 478.76L280.47 479.15L280.85 479.55L281.23 479.95L281.61 480.35L281.99 480.75L282.36 481.15L282.74 481.56L283.11 481.96L283.48 482.37L283.85 482.77L284.22 483.18L284.59 483.59L284.96 484.00L285.32 484.41L285.69 484.83L286.05 485.24L286.41 485.66L286.77 486.07L287.13 486.49L287.48 486.91L287.84 487.34L288.19 487.76L288.54 488.19L288.88 488.61L289.23 489.04L289.57 489.47L289.92 489.90L290.26 490.34L290.59 490.77L290.93 491.21L291.26 491.65L291.59 492.09L291.92 492.53L292.25 492.97L292.57 493.42L292.89 493.87L293.21 494.32L293.53 494.77L293.84 495.22L294.15 495.68L294.46 496.13L294.76 496.59L295.07 497.05L295.37 497.51L295.66 497.97L295.96 498.44L296.25 498.91L296.54 499.38L296.83 499.85L297.11 500.32L297.39 500.79L297.67 501.27L297.94 501.75L298.21 502.22L298.48 502.71L298.74 503.19L299.01 503.67L299.27 504.16L299.52 504.65L299.77 505.14L300.02 505.63L300.27 506.12L300.51 506.61L300.75 507.11L300.99 507.61L301.22 508.11L301.45 508.61L301.67 509.11L301.88 509.62L302.09 510.13L302.29 510.64L302.48 511.16L302.66 511.68L302.83 512.20L302.98 512.73L303.12 513.27L303.24 513.80L303.33 514.35L303.40 514.89L303.44 515.44L303.45 515.99L303.41 516.54L303.33 517.09L303.19 517.62L303.01 518.14L302.77 518.63L302.47 519.10L302.13 519.53L301.74 519.91L301.30 520.25L300.84 520.54L300.34 520.79L299.83 520.99L299.30 521.15L298.77 521.28L298.23 521.38L297.68 521.47L297.14 521.53L296.59 521.57L296.04 521.60L295.49 521.62L294.94 521.63L294.39 521.63L293.84 521.62L293.28 521.61L292.73 521.59L292.18 521.56L291.63 521.54L291.08 521.51L290.53 521.47L289.99 521.44L289.44 521.40L288.89 521.35L288.34 521.31L287.79 521.26L287.24 521.20L286.69 521.15L286.15 521.09L285.60 521.03L285.05 520.96L284.51 520.89L283.96 520.82L283.41 520.75L282.87 520.67L282.32 520.59L281.78 520.50L281.24 520.42L280.69 520.33L280.15 520.23L279.61 520.14L279.07 520.04L278.53 519.94L277.98 519.83L277.44 519.72L276.91 519.61L276.37 519.50L275.83 519.39L275.29 519.27L274.75 519.15L274.22 519.02L273.68 518.89L273.15 518.77L272.61 518.63L272.08 518.50L271.54 518.36L271.01 518.22L270.48 518.08L269.95 517.93L269.42 517.79L268.89 517.64L268.36 517.48L267.83 517.33L267.30 517.17L266.77 517.01L266.25 516.85L265.72 516.69L265.20 516.52L264.67 516.35L264.15 516.18L263.63 516.01L263.11 515.83L262.58 515.65L262.06 515.47L261.54 515.29L261.02 515.11L260.51 514.92L259.99 514.74L259.47 514.55L258.96 514.35L258.44 514.16L257.93 513.97L257.41 513.77L256.90 513.57L256.38 513.37L255.87 513.17L255.36 512.96L254.85 512.75L254.34 512.55L253.83 512.34L253.32 512.13L252.82 511.91L252.31 511.70L251.80 511.48L251.30 511.26L250.79 511.05L250.29 510.82L249.78 510.60L249.28 510.38L248.78 510.15L248.27 509.93L247.77 509.70L247.27 509.47L246.77 509.24L246.27 509.01L245.77 508.78L245.27 508.54L244.78 508.31L244.28 508.07L243.78 507.83L243.29 507.59L242.79 507.36L242.30 507.11L241.80 506.87L241.31 506.63L240.81 506.39L240.32 506.14L239.83 505.89L239.33 505.65L238.84 505.40L238.35 505.15L237.86 504.90L237.37 504.65L236.88 504.40L236.39 504.15L235.90 503.90L235.41 503.64L234.92 503.39L234.44 503.13L233.95 502.88L233.46 502.62L232.97 502.36L232.49 502.11L232.00 501.85L231.51 501.59L231.03 501.33L230.54 501.07L230.06 500.81L229.57 500.55L229.09 500.29L228.60 500.03L228.12 499.76L227.64 499.50L227.15 499.24L226.67 498.98L226.18 498.71L225.70 498.45L225.22 498.18L224.73 497.92L224.25 497.66L223.77 497.39L223.29 497.13L222.80 496.86L222.32 496.59L221.84 496.33L221.36 496.06L220.87 495.80L220.39 495.53L219.91 495.27L219.43 495.00L218.94 494.73L218.46 494.47L217.98 494.20L217.50 493.94L217.02 493.67L216.53 493.41L216.05 493.14L215.57 492.87L215.09 492.61L214.60 492.34L214.12 492.08L213.64 491.81L213.16 491.55L212.67 491.28L212.19 491.02L211.71 490.75L211.23 490.48L210.74 490.22L210.26 489.95L209.78 489.69L209.30 489.42L208.81 489.16L208.33 488.89L207.85 488.62L207.37 488.36L206.89 488.09L206.40 487.83L205.92 487.56L205.44 487.29L204.96 487.03L204.48 486.76L203.99 486.50L203.51 486.23L203.03 485.96L202.55 485.69L202.07 485.43L201.59 485.16L201.10 484.89L200.62 484.62L200.14 484.36L199.66 484.09L199.18 483.82L198.70 483.55L198.22 483.28L197.74 483.01L197.26 482.75L196.78 482.48L196.30 482.21L195.82 481.94L195.34 481.67L194.86 481.40L194.38 481.13L193.90 480.86L193.42 480.58L192.94 480.31L192.46 480.04L191.98 479.77L191.50 479.50L191.02 479.22L190.55 478.95L190.07 478.68L189.59 478.40L189.11 478.13L188.64 477.86L188.16 477.58L187.68 477.31L187.20 477.03L186.73 476.75L186.25 476.48L185.78 476.20L185.30 475.92L184.82 475.65L184.35 475.37L183.87 475.09L183.40 474.81L182.92 474.53L182.45 474.25L181.97 473.97L181.50 473.69L181.03 473.41L180.55 473.13L180.08 472.85L179.61 472.57L179.14 472.28L178.66 472.00L178.19 471.72L177.72 471.43L177.25 471.15L176.78 470.86L176.31 470.58L175.84 470.29L175.37 470.00L174.90 469.72L174.43 469.43L173.96 469.14L173.49 468.85L173.02 468.56L172.55 468.27L172.09 467.98L171.62 467.69L171.15 467.39L170.69 467.10L170.22 466.81L169.76 466.51L169.29 466.22L168.83 465.92L168.36 465.63L167.90 465.33L167.43 465.03L166.97 464.73L166.51 464.44L166.05 464.14L165.58 463.84L165.12 463.53L164.66 463.23L164.20 462.93L163.74 462.63L163.28 462.32L162.82 462.02L162.37 461.71L161.91 461.41L161.45 461.10L160.99 460.79L160.54 460.49L160.08 460.18L159.63 459.87L159.17 459.56L158.72 459.24L158.26 458.93L157.81 458.62L157.36 458.31L156.91 457.99L156.46 457.68L156.00 457.36L155.55 457.04L155.10 456.72L154.66 456.41L154.21 456.09L153.76 455.77L153.31 455.44L152.87 455.12L152.42 454.80L151.97 454.48L151.53 454.15L151.08 453.83L150.64 453.50L150.20 453.17L149.75 452.85L149.31 452.52L148.87 452.19L148.43 451.86L147.99 451.53L147.55 451.20L147.11 450.86L146.67 450.53L146.24 450.20L145.80 449.86L145.36 449.53L144.93 449.19L144.49 448.85L144.06 448.51L143.62 448.17L143.19 447.84L142.76 447.50L142.32 447.15L141.89 446.81L141.46 446.47L141.03 446.13L140.60 445.78L140.17 445.44L139.74 445.09L139.31 444.75L138.89 444.40L138.46 444.05L138.03 443.70L137.61 443.35L137.18 443.00L136.76 442.65L136.33 442.30L135.91 441.95L135.49 441.59L135.07 441.24L134.64 440.89L134.22 440.53L133.80 440.17L133.38 439.82L132.97 439.46L132.55 439.10L132.13 438.74L131.71 438.38L131.30 438.02L130.88 437.66L130.46 437.30L130.05 436.94L129.64 436.58L129.22 436.21L128.81 435.85L128.40 435.48L127.99 435.12L127.57 434.75L127.16 434.38L126.75 434.02L126.35 433.65L125.94 433.28L125.53 432.91L125.12 432.54L124.72 432.17L124.31 431.79L123.90 431.42L123.50 431.05L123.09 430.67L122.69 430.30L122.29 429.92L121.89 429.55L121.48 429.17L121.08 428.79L120.68 428.42L120.28 428.04L119.88 427.66L119.48 427.28L119.09 426.90L118.69 426.52L118.29 426.14L117.90 425.75L117.50 425.37L117.10 424.99L116.71 424.60L116.32 424.22L115.92 423.83L115.53 423.45L115.14 423.06L114.75 422.67L114.36 422.28L113.97 421.89L113.58 421.51L113.19 421.12L112.80 420.73L112.41 420.33L112.02 419.94L111.64 419.55L111.25 419.16L110.87 418.76L110.48 418.37L110.10 417.98L109.71 417.58L109.33 417.19L108.95 416.79L108.57 416.39L108.19 415.99L107.81 415.60L107.43 415.20L107.05 414.80L106.67 414.40L106.29 414.00L105.91 413.60L105.53 413.20L105.16 412.79L104.78 412.39L104.41 411.99L104.03 411.59L103.66 411.18L103.29 410.78L102.91 410.37L102.54 409.97L102.17 409.56L101.80 409.15L101.43 408.74L101.06 408.34L100.69 407.93L100.32 407.52L99.95 407.11L99.58 406.70L99.22 406.29L98.85 405.88L98.48 405.47L98.12 405.05L97.75 404.64L97.39 404.23L97.03 403.81L96.66 403.40L96.30 402.98L95.94 402.57L95.58 402.15L95.22 401.74L94.86 401.32L94.50 400.90L94.14 400.49L93.78 400.07L93.43 399.65L93.07 399.23L92.71 398.81L92.36 398.39L92.00 397.97L91.65 397.55L91.30 397.12L90.94 396.70L90.59 396.28L90.24 395.85L89.89 395.43L89.54 395.00L89.19 394.57L88.85 394.14L88.50 393.72L88.16 393.29L87.81 392.86L87.47 392.43L87.13 392.00L86.79 391.56L86.45 391.13L86.11 390.70L85.77 390.26L85.43 389.83L85.10 389.39L84.76 388.95L84.43 388.51L84.10 388.07L83.77 387.63L83.44 387.19L83.11 386.75L82.78 386.31L82.46 385.86L82.13 385.42L81.81 384.97L81.49 384.52L81.17 384.08L80.85 383.63L80.53 383.18L80.22 382.73L79.90 382.27L79.59 381.82L79.28 381.36L78.97 380.91L78.66 380.45L78.36 379.99L78.05 379.53L77.75 379.07L77.45 378.61L77.15 378.15L76.86 377.69L76.56 377.22L76.27 376.76L75.98 376.29L75.69 375.82L75.40 375.35L75.12 374.88L74.83 374.41L74.55 373.93L74.27 373.46L74.00 372.98L73.72 372.50L73.45 372.02L73.18 371.55L72.91 371.06L72.65 370.58L72.38 370.10L72.12 369.61L71.86 369.13L71.61 368.64L71.35 368.15L71.10 367.66L70.86 367.17L70.61 366.67L70.37 366.18L70.13 365.68L69.89 365.19L69.66 364.69L69.42 364.19L69.19 363.69L68.97 363.19L68.74 362.68L68.52 362.18L68.31 361.67L68.09 361.17L67.88 360.66L67.67 360.15L67.47 359.64L67.27 359.12L67.07 358.61L66.87 358.10L66.68 357.58L66.49 357.06L66.31 356.54L66.12 356.02L65.95 355.50L65.77 354.98L65.60 354.46L65.43 353.93L65.27 353.41L65.11 352.88L64.95 352.35L64.79 351.82L64.64 351.30L64.50 350.76L64.36 350.23L64.22 349.70L64.08 349.17L63.95 348.63L63.83 348.09L63.70 347.56L63.58 347.02L63.47 346.48L63.36 345.94L63.25 345.40L63.15 344.86L63.05 344.32L62.95 343.78L62.86 343.23L62.78 342.69L62.70 342.15L62.62 341.60L62.54 341.05L62.47 340.51L62.41 339.96L62.35 339.41L62.29 338.87L62.24 338.32L62.19 337.77L62.15 337.22L62.11 336.67L62.07 336.12Z" fill="none" stroke="#0000ff" stroke-width="2.3" stroke-linejoin="round"/><path d="M137.0 392.0h0M136.9 394.3h0M137.1 396.9h0M137.9 399.9h0M139.5 403.8h0M142.6 408.6h0M147.3 414.6h0M153.7 421.3h0M161.5 428.1h0M169.6 433.8h0M177.0 438.2h0M183.6 442.0h0M190.0 445.6h0M196.0 448.6h0M201.3 450.6h0M206.0 451.7h0M210.2 452.3h0M213.2 451.4h0M212.7 447.8h0M209.4 442.3h0M202.7 435.2h0M195.9 428.4h0M189.6 422.1h0M183.2 416.0h0M176.4 409.5h0M168.8 402.5h0M160.1 395.2h0M150.8 388.5h0M142.4 383.6h0M137.1 382.6h0M133.8 383.1h0M131.8 384.6h0M131.0 387.0h0M130.8 389.7h0M131.1 392.7h0M132.0 396.3h0M133.9 400.7h0M137.3 406.4h0M142.8 413.3h0M150.2 421.1h0M159.2 429.1h0M168.8 436.0h0M177.5 441.3h0M185.4 445.8h0M192.9 450.0h0M200.0 453.6h0M206.3 456.1h0M211.9 457.6h0M216.8 458.3h0M220.7 457.7h0M220.9 454.0h0M217.5 447.9h0M210.4 439.8h0M202.1 431.6h0M194.7 424.3h0M187.3 417.1h0M179.6 409.7h0M170.9 401.7h0M161.0 393.2h0M150.3 385.1h0M140.0 378.5h0M132.9 376.4h0M128.6 376.7h0M125.9 378.2h0M124.6 380.7h0M124.3 383.8h0M124.5 387.2h0M125.3 391.1h0M127.0 395.9h0M130.4 402.0h0M136.0 409.5h0M143.7 418.3h0M153.6 427.6h0M164.6 436.2h0M175.2 443.0h0M184.6 448.4h0M193.3 453.3h0M201.8 457.8h0M209.5 461.3h0M216.2 463.4h0M222.2 464.5h0M227.5 464.8h0M229.9 462.2h0M227.6 456.2h0M221.6 447.9h0M211.8 438.1h0M202.9 429.3h0M194.5 421.0h0M185.9 412.7h0M176.5 403.9h0M165.9 394.4h0M154.0 384.7h0M141.7 376.0h0M131.2 370.5h0M124.9 369.8h0M120.7 370.8h0M118.4 373.1h0M117.5 376.3h0M117.4 380.0h0M117.9 384.1h0M119.2 388.9h0M121.8 394.9h0M126.5 402.5h0M133.9 411.6h0M143.6 421.9h0M155.5 432.5h0M168.1 441.6h0M179.7 448.7h0M190.0 454.6h0M199.9 460.1h0M209.3 464.9h0M217.7 468.3h0M225.0 470.4h0M231.6 471.4h0M237.1 471.1h0M238.4 467.2h0M234.8 459.7h0M226.7 449.6h0M215.7 438.6h0M205.7 428.9h0M196.2 419.5h0M186.3 410.1h0M175.5 400.0h0M163.3 389.2h0M149.7 378.3h0M135.9 368.8h0M124.7 363.6h0M118.0 363.2h0M113.6 364.5h0M111.3 367.2h0M110.4 370.9h0M110.4 375.1h0M111.1 379.8h0M112.6 385.4h0M115.7 392.2h0M121.2 400.8h0M129.6 411.2h0M140.6 422.8h0M154.0 434.6h0M168.2 444.8h0M181.1 452.7h0M192.7 459.3h0M203.7 465.4h0M214.3 470.8h0M223.7 474.7h0M231.8 477.0h0M239.1 478.1h0M245.5 477.9h0M247.3 473.8h0M243.6 465.6h0M235.1 454.7h0M222.6 442.3h0M211.5 431.3h0M200.8 420.9h0M189.9 410.4h0M178.1 399.3h0M164.7 387.4h0M149.8 375.3h0M134.4 364.4h0M121.1 357.4h0M113.1 356.4h0M107.8 357.6h0M104.8 360.4h0M103.6 364.4h0M103.5 369.0h0M104.0 374.0h0M105.5 379.9h0M108.4 387.1h0M113.7 396.1h0M122.2 407.1h0M133.6 419.6h0M147.7 432.7h0M163.4 444.7h0M178.2 454.1h0M191.3 461.6h0M203.6 468.4h0M215.4 474.8h0M226.3 479.6h0M235.7 482.7h0M243.9 484.3h0M251.5 484.8h0M255.8 482.2h0M253.7 474.6h0M246.8 463.9h0M233.9 450.3h0M221.0 437.7h0M209.3 426.1h0M197.5 414.7h0M185.1 402.9h0M171.2 390.3h0M155.6 377.0h0M138.8 364.3h0M122.5 353.9h0M111.2 350.2h0M104.2 350.6h0M99.7 352.7h0M97.5 356.5h0M96.9 361.2h0M97.1 366.5h0M98.1 372.4h0M100.4 379.4h0M104.6 388.0h0M111.8 398.7h0M122.5 411.5h0M136.1 425.5h0M152.4 439.6h0M169.4 451.5h0M184.7 460.7h0M198.5 468.5h0M211.6 475.8h0M224.1 482.1h0M235.3 486.7h0M245.0 489.4h0M253.6 490.7h0M261.2 490.6h0M263.8 486.0h0M259.7 476.5h0M250.3 463.9h0M235.6 449.1h0M222.1 435.9h0M209.5 423.5h0M196.7 411.2h0M182.9 398.3h0M167.6 384.4h0M150.3 370.1h0M132.2 356.8h0M115.3 346.8h0M104.4 344.2h0M97.5 345.1h0M93.2 347.8h0M91.2 352.2h0M90.8 357.4h0M91.2 363.1h0M92.5 369.6h0M95.2 377.4h0M100.2 386.9h0M108.4 398.8h0M120.3 412.7h0M135.3 427.8h0M153.0 442.7h0M171.0 455.2h0M187.3 464.8h0M201.9 473.0h0M215.9 480.8h0M229.2 487.4h0M241.0 492.1h0M251.2 494.9h0M260.4 496.3h0M268.4 496.0h0M270.9 490.9h0M266.4 480.7h0M256.3 467.2h0M240.5 451.4h0M226.2 437.3h0M212.7 424.1h0M199.1 411.0h0M184.5 397.3h0M168.2 382.6h0M149.9 367.4h0M130.7 353.2h0M112.5 342.1h0M100.5 339.0h0M93.0 339.8h0M88.2 342.6h0M85.9 347.1h0M85.4 352.6h0M85.8 358.6h0M87.1 365.4h0M89.8 373.4h0M94.6 383.3h0M102.9 395.5h0M114.9 410.0h0M130.3 425.9h0M148.8 441.9h0M168.0 455.5h0M185.5 466.2h0M201.2 475.0h0M216.0 483.2h0M230.3 490.6h0M243.1 495.9h0M254.2 499.2h0M264.0 500.9h0M272.9 501.2h0M277.2 497.2h0M274.0 487.5h0M265.1 474.2h0M249.1 457.6h0M233.5 442.3h0M219.1 428.2h0M204.9 414.5h0M189.9 400.3h0M173.4 385.2h0M154.8 369.2h0M134.7 353.8h0M114.8 340.7h0M100.0 334.8h0M90.9 334.8h0M85.0 337.1h0M81.8 341.3h0M80.8 346.8h0M81.0 353.0h0M82.0 359.8h0M84.2 367.7h0M88.3 377.3h0M95.5 389.1h0M106.7 403.5h0M121.5 419.6h0M139.7 436.6h0M159.9 452.1h0M179.1 464.4h0M196.1 474.2h0M211.9 482.9h0M227.1 491.1h0M241.2 497.7h0M253.5 502.0h0M264.3 504.4h0M274.0 505.4h0M281.4 503.8h0M281.6 496.2h0M275.0 484.0h0M261.6 467.9h0M244.3 450.9h0M228.8 435.8h0M214.1 421.4h0M198.9 407.0h0M182.6 391.8h0M164.4 375.5h0M144.1 359.0h0M123.1 343.9h0M104.0 333.0h0M91.9 330.6h0M84.2 331.9h0M79.4 335.2h0M77.2 340.3h0M76.9 346.4h0M77.4 353.1h0M79.0 360.6h0M82.0 369.5h0M87.5 380.3h0M96.7 393.8h0M109.9 409.5h0M126.7 426.8h0M146.7 444.1h0M167.6 458.9h0M186.6 470.5h0M203.6 480.0h0M219.6 488.9h0M235.1 496.9h0M249.0 502.8h0M261.1 506.5h0M271.7 508.4h0M281.4 508.8h0M286.9 505.2h0M284.3 495.3h0M275.5 481.4h0M259.0 463.8h0M241.8 446.9h0M226.2 431.7h0M210.9 416.9h0M195.0 401.8h0M177.6 385.7h0M158.1 368.8h0M136.7 352.0h0M115.2 337.2h0M97.4 328.5h0M86.6 327.6h0M79.5 329.5h0M75.4 333.5h0M73.8 339.2h0M73.7 345.7h0M74.5 352.8h0M76.5 360.8h0M80.2 370.4h0M86.7 382.2h0M97.2 396.6h0M111.7 413.3h0M129.8 431.2h0M150.9 448.7h0M172.1 463.1h0M191.1 474.4h0M208.3 484.0h0M224.7 493.0h0M240.3 500.8h0M254.1 506.4h0M266.2 509.7h0M276.9 511.4h0M286.5 511.4h0M290.7 506.5h0M286.6 495.3h0M276.3 480.4h0M258.5 462.0h0M241.2 445.1h0M225.3 429.6h0M209.6 414.4h0M193.1 398.8h0M175.0 382.2h0M154.6 364.8h0M132.6 347.7h0M110.7 333.0h0M93.5 325.5h0M83.2 325.2h0M76.3 327.5h0M72.5 331.9h0M71.1 337.8h0M71.2 344.5h0M72.2 351.9h0M74.3 360.2h0M78.4 370.2h0M85.4 382.6h0M96.6 397.6h0M111.8 414.8h0M130.7 433.2h0M152.3 450.9h0M173.9 465.3h0M193.1 476.6h0M210.5 486.3h0M227.2 495.5h0M243.1 503.3h0M257.1 508.8h0M269.3 512.1h0M280.1 513.7h0M289.8 513.5h0M293.6 508.1h0M289.0 496.5h0M278.1 481.0h0M259.8 462.2h0M242.2 445.1h0M226.0 429.3h0M210.0 413.8h0M193.1 397.9h0M174.6 381.0h0M153.8 363.2h0M131.4 345.8h0M109.0 330.9h0M91.7 323.5h0M81.2 323.2h0M74.2 325.5h0M70.4 330.0h0M69.0 336.1h0M69.1 343.0h0M70.1 350.4h0M72.3 358.9h0M76.4 369.1h0M83.6 381.7h0M94.9 396.9h0M110.3 414.4h0M129.4 433.1h0M151.4 451.1h0M173.4 465.9h0M193.0 477.5h0M210.8 487.3h0M227.8 496.6h0M243.9 504.7h0M258.2 510.3h0M270.6 513.8h0M281.7 515.4h0M291.6 515.4h0M295.9 510.2h0M291.6 498.7h0M281.0 483.2h0M262.5 464.1h0M244.6 446.6h0M228.1 430.5h0M211.8 414.8h0M194.8 398.7h0M176.1 381.6h0M155.2 363.6h0M132.5 345.9h0M109.8 330.5h0M91.6 322.1h0M80.5 321.5h0M73.2 323.7h0M69.0 328.1h0M67.4 334.1h0M67.4 341.0h0M68.4 348.6h0M70.5 357.1h0M74.4 367.2h0M81.3 379.6h0M92.3 394.8h0M107.5 412.3h0M126.5 431.2h0M148.6 449.7h0M171.0 465.1h0M191.2 477.1h0M209.3 487.2h0M226.5 496.7h0M243.0 505.0h0M257.8 511.1h0M270.6 514.8h0M281.9 516.7h0M292.2 517.0h0M297.5 512.6h0M294.3 501.7h0M284.5 486.6h0M266.6 467.5h0M248.1 449.4h0M231.3 433.0h0M214.9 417.1h0M197.8 400.9h0M179.2 383.8h0M158.4 365.7h0M135.7 347.6h0M112.6 331.6h0M92.9 321.5h0M80.9 320.1h0M73.0 322.0h0M68.2 326.1h0M66.3 332.0h0M66.1 338.9h0M66.9 346.3h0M68.8 354.7h0M72.4 364.6h0M78.7 376.8h0M89.1 391.6h0M103.7 408.9h0M122.2 427.9h0M144.1 446.8h0M166.9 463.0h0M187.8 475.7h0M206.4 486.1h0M223.9 495.8h0M240.8 504.5h0M256.0 511.1h0M269.3 515.3h0M281.0 517.5h0M291.6 518.2h0M298.5 515.0h0M296.9 505.2h0M288.4 490.7h0M271.8 472.1h0M252.6 453.3h0M235.4 436.5h0M218.8 420.4h0M201.8 404.2h0M183.5 387.2h0M163.0 369.1h0M140.4 350.7h0M117.0 334.0h0M95.7 321.8h0M82.2 319.1h0M73.5 320.5h0M68.0 324.1h0M65.6 329.7h0M65.1 336.5h0M65.7 343.9h0M67.3 352.1h0M70.5 361.7h0M76.1 373.3h0M85.5 387.6h0M99.3 404.6h0M117.1 423.4h0M138.5 442.7h0M161.5 459.9h0M183.2 473.4h0M202.4 484.3h0M220.1 494.1h0M237.4 503.3h0M253.2 510.5h0M267.0 515.3h0M279.1 517.9h0M290.1 519.0h0M298.5 517.2h0M299.2 509.0h0M292.1 495.3h0M277.7 477.6h0M257.9 458.1h0M240.2 440.9h0M223.5 424.6h0M206.6 408.4h0M188.6 391.5h0M168.6 373.6h0M146.3 355.0h0M122.8 337.5h0M100.2 323.3h0M84.5 318.4h0M74.8 319.2h0M68.4 322.2h0M65.2 327.4h0M64.3 334.0h0M64.7 341.3h0M66.0 349.3h0M68.7 358.5h0M73.6 369.5h0M81.9 383.2h0M94.6 399.6h0M111.4 418.0h0M132.0 437.5h0M155.0 455.7h0M177.4 470.3h0M197.3 481.8h0M215.5 491.9h0M233.0 501.4h0M249.4 509.3h0M263.9 514.8h0M276.5 518.0h0M287.8 519.5h0M297.5 518.9h0M300.8 512.7h0M295.5 500.1h0M283.6 483.6h0M264.0 463.8h0M245.7 445.9h0M228.7 429.4h0M211.9 413.2h0M194.2 396.5h0M174.8 378.8h0M153.0 360.2h0M129.6 342.0h0M106.2 326.4h0M87.9 318.4h0M76.8 318.1h0M69.5 320.5h0M65.3 325.1h0M63.9 331.4h0M63.9 338.6h0M64.9 346.4h0M67.2 355.2h0M71.3 365.6h0M78.4 378.5h0M89.8 394.1h0M105.5 412.1h0M125.0 431.5h0M147.7 450.5h0M170.7 466.4h0M191.5 478.7h0M210.1 489.1h0M227.9 498.9h0M244.8 507.5h0M260.0 513.8h0M273.2 517.7h0M284.9 519.6h0M295.5 520.0h0M301.3 515.9h0M298.5 505.0h0M288.9 489.7h0M271.0 470.4h0M251.7 451.6h0M234.4 434.7h0M217.6 418.4h0M200.2 401.9h0M181.3 384.5h0M160.3 366.0h0M137.1 347.4h0M113.4 330.8h0M92.6 319.4h0M79.6 317.4h0M71.1 319.1h0M65.9 323.0h0M63.7 328.8h0M63.3 335.8h0M64.1 343.4h0M65.9 351.8h0M69.3 361.7h0M75.3 373.7h0M85.2 388.5h0M99.5 405.9h0M117.8 425.0h0M139.8 444.5h0M163.1 461.7h0M184.9 475.1h0M204.2 486.0h0M222.1 495.9h0M239.5 505.1h0M255.4 512.3h0M269.3 517.0h0M281.4 519.5h0M292.5 520.5h0M300.7 518.4h0M300.9 509.7h0M293.4 495.7h0M278.3 477.5h0M258.3 457.9h0M240.5 440.5h0M223.6 424.0h0M206.4 407.6h0M188.1 390.5h0M167.8 372.3h0M145.2 353.5h0M121.4 335.9h0M98.7 321.8h0M83.1 317.1h0M73.4 317.9h0M67.0 321.0h0M63.9 326.3h0M63.0 333.0h0M63.4 340.4h0M64.8 348.5h0M67.5 357.8h0M72.5 369.1h0M80.9 382.9h0M93.8 399.4h0M110.8 418.1h0M131.6 437.8h0M154.9 456.1h0M177.5 470.9h0M197.6 482.5h0M215.9 492.7h0M233.6 502.3h0M250.2 510.3h0" stroke="#0000ff" stroke-width="2.20" stroke-linecap="round" fill="none"/></g>
<path d="M33.50 535.30v-3.0M33.50 308.60v3.0M91.66 535.30v-3.0M91.66 308.60v3.0M149.82 535.30v-3.0M149.82 308.60v3.0M207.98 535.30v-3.0M207.98 308.60v3.0M266.14 535.30v-3.0M266.14 308.60v3.0M324.30 535.30v-3.0M324.30 308.60v3.0M33.50 535.30h3.0M324.30 535.30h-3.0M33.50 506.96h3.0M324.30 506.96h-3.0M33.50 478.62h3.0M324.30 478.62h-3.0M33.50 450.29h3.0M324.30 450.29h-3.0M33.50 421.95h3.0M324.30 421.95h-3.0M33.50 393.61h3.0M324.30 393.61h-3.0M33.50 365.27h3.0M324.30 365.27h-3.0M33.50 336.94h3.0M324.30 336.94h-3.0M33.50 308.60h3.0M324.30 308.60h-3.0" stroke="#000" stroke-width="1.1" fill="none"/>
<rect x="33.50" y="308.60" width="290.80" height="226.70" fill="none" stroke="#000" stroke-width="1"/>
<g class="tl"><text x="33.50" y="548.50" text-anchor="middle">0.4</text><text x="91.66" y="548.50" text-anchor="middle">0.45</text><text x="149.82" y="548.50" text-anchor="middle">0.5</text><text x="207.98" y="548.50" text-anchor="middle">0.55</text><text x="266.14" y="548.50" text-anchor="middle">0.6</text><text x="324.30" y="548.50" text-anchor="middle">0.65</text><text x="30.40" y="539.10" text-anchor="end">0.5</text><text x="30.40" y="510.76" text-anchor="end">0.55</text><text x="30.40" y="482.43" text-anchor="end">0.6</text><text x="30.40" y="454.09" text-anchor="end">0.65</text><text x="30.40" y="425.75" text-anchor="end">0.7</text><text x="30.40" y="397.41" text-anchor="end">0.75</text><text x="30.40" y="369.07" text-anchor="end">0.8</text><text x="30.40" y="340.74" text-anchor="end">0.85</text><text x="30.40" y="312.40" text-anchor="end">0.9</text></g>
<text class="al" x="178.90" y="565.80" text-anchor="middle">x</text>
<text class="al" x="0" y="0" text-anchor="middle" transform="translate(6.70 421.25) rotate(-90)">y</text>
<text class="cap" x="165.00" y="592.30" text-anchor="middle">(c)</text>
<clipPath id="clipd"><rect x="384.50" y="308.60" width="290.10" height="226.70"/></clipPath>
<g clip-path="url(#clipd)"><path d="M401.15 346.78L401.14 346.19L401.13 345.60L401.12 345.01L401.13 344.42L401.14 343.83L401.16 343.24L401.19 342.65L401.22 342.06L401.27 341.48L401.33 340.89L401.40 340.30L401.48 339.72L401.58 339.14L401.68 338.56L401.80 337.98L401.94 337.41L402.09 336.84L402.26 336.27L402.44 335.71L402.64 335.16L402.86 334.61L403.10 334.08L403.36 333.55L403.65 333.03L403.95 332.52L404.28 332.03L404.62 331.56L405.00 331.10L405.39 330.66L405.80 330.24L406.24 329.85L406.69 329.47L407.17 329.12L407.65 328.79L408.16 328.48L408.67 328.19L409.19 327.92L409.72 327.67L410.27 327.43L410.81 327.21L411.37 327.01L411.92 326.82L412.49 326.65L413.06 326.49L413.63 326.34L414.20 326.21L414.78 326.09L415.36 325.99L415.94 325.90L416.52 325.82L417.11 325.75L417.70 325.70L418.29 325.66L418.87 325.63L419.46 325.62L420.05 325.61L420.64 325.62L421.23 325.64L421.82 325.67L422.41 325.71L422.99 325.76L423.58 325.82L424.17 325.90L424.75 325.98L425.33 326.07L425.91 326.17L426.49 326.27L427.07 326.39L427.65 326.51L428.22 326.64L428.79 326.78L429.36 326.93L429.93 327.08L430.50 327.24L431.07 327.41L431.63 327.58L432.19 327.76L432.75 327.94L433.31 328.13L433.87 328.32L434.42 328.52L434.98 328.72L435.53 328.92L436.08 329.13L436.63 329.35L437.18 329.57L437.72 329.79L438.27 330.01L438.81 330.24L439.35 330.47L439.90 330.71L440.44 330.94L440.97 331.18L441.51 331.42L442.05 331.67L442.58 331.91L443.12 332.16L443.65 332.41L444.19 332.66L444.72 332.91L445.25 333.16L445.78 333.42L446.32 333.67L446.84 333.93L447.37 334.19L447.90 334.45L448.43 334.72L448.96 334.98L449.48 335.25L450.01 335.52L450.53 335.78L451.05 336.06L451.58 336.33L452.10 336.60L452.62 336.88L453.14 337.16L453.66 337.43L454.18 337.72L454.69 338.00L455.21 338.28L455.73 338.57L456.24 338.85L456.76 339.14L457.27 339.43L457.78 339.72L458.30 340.01L458.81 340.30L459.32 340.60L459.83 340.90L460.34 341.19L460.84 341.49L461.35 341.79L461.86 342.09L462.36 342.40L462.87 342.70L463.37 343.01L463.87 343.31L464.38 343.62L464.88 343.93L465.38 344.24L465.88 344.55L466.38 344.87L466.88 345.18L467.38 345.49L467.87 345.81L468.37 346.13L468.86 346.45L469.36 346.77L469.85 347.09L470.35 347.41L470.84 347.74L471.33 348.06L471.82 348.39L472.31 348.71L472.80 349.04L473.29 349.37L473.78 349.70L474.27 350.03L474.76 350.36L475.24 350.69L475.73 351.03L476.21 351.36L476.70 351.70L477.18 352.04L477.66 352.37L478.15 352.71L478.63 353.05L479.11 353.39L479.59 353.73L480.07 354.08L480.55 354.42L481.03 354.76L481.51 355.11L481.98 355.45L482.46 355.80L482.94 356.15L483.41 356.50L483.89 356.84L484.36 357.19L484.84 357.54L485.31 357.89L485.78 358.25L486.25 358.60L486.73 358.95L487.20 359.30L487.67 359.66L488.14 360.01L488.61 360.37L489.08 360.73L489.55 361.08L490.02 361.44L490.48 361.80L490.95 362.16L491.42 362.52L491.89 362.88L492.35 363.24L492.82 363.60L493.28 363.96L493.75 364.32L494.21 364.68L494.68 365.05L495.14 365.41L495.61 365.77L496.07 366.14L496.53 366.50L497.00 366.87L497.46 367.23L497.92 367.60L498.38 367.96L498.84 368.33L499.31 368.70L499.77 369.07L500.23 369.43L500.69 369.80L501.15 370.17L501.61 370.54L502.07 370.91L502.53 371.28L502.99 371.64L503.45 372.01L503.90 372.38L504.36 372.75L504.82 373.12L505.28 373.49L505.74 373.87L506.20 374.24L506.65 374.61L507.11 374.98L507.57 375.35L508.03 375.72L508.48 376.09L508.94 376.46L509.40 376.84L509.86 377.21L510.31 377.58L510.77 377.95L511.23 378.33L511.68 378.70L512.14 379.07L512.60 379.44L513.05 379.82L513.51 380.19L513.96 380.56L514.42 380.94L514.88 381.31L515.33 381.68L515.79 382.06L516.24 382.43L516.70 382.81L517.15 383.18L517.61 383.56L518.06 383.93L518.52 384.30L518.97 384.68L519.43 385.05L519.88 385.43L520.34 385.80L520.79 386.18L521.25 386.55L521.70 386.93L522.16 387.31L522.61 387.68L523.06 388.06L523.52 388.43L523.97 388.81L524.43 389.18L524.88 389.56L525.33 389.94L525.79 390.31L526.24 390.69L526.70 391.06L527.15 391.44L527.60 391.82L528.06 392.19L528.51 392.57L528.96 392.95L529.42 393.32L529.87 393.70L530.32 394.08L530.78 394.46L531.23 394.83L531.68 395.21L532.13 395.59L532.59 395.96L533.04 396.34L533.49 396.72L533.95 397.10L534.40 397.47L534.85 397.85L535.30 398.23L535.76 398.61L536.21 398.98L536.66 399.36L537.11 399.74L537.57 400.12L538.02 400.49L538.47 400.87L538.92 401.25L539.38 401.63L539.83 402.01L540.28 402.38L540.73 402.76L541.18 403.14L541.64 403.52L542.09 403.89L542.54 404.27L542.99 404.65L543.45 405.03L543.90 405.41L544.35 405.78L544.80 406.16L545.25 406.54L545.71 406.92L546.16 407.30L546.61 407.67L547.06 408.05L547.52 408.43L547.97 408.81L548.42 409.19L548.87 409.56L549.32 409.94L549.78 410.32L550.23 410.70L550.68 411.08L551.13 411.45L551.59 411.83L552.04 412.21L552.49 412.59L552.94 412.97L553.40 413.34L553.85 413.72L554.30 414.10L554.75 414.48L555.21 414.85L555.66 415.23L556.11 415.61L556.56 415.99L557.02 416.36L557.47 416.74L557.92 417.12L558.37 417.50L558.83 417.87L559.28 418.25L559.73 418.63L560.19 419.00L560.64 419.38L561.09 419.76L561.54 420.14L562.00 420.51L562.45 420.89L562.90 421.27L563.36 421.64L563.81 422.02L564.26 422.40L564.72 422.77L565.17 423.15L565.63 423.52L566.08 423.90L566.53 424.28L566.99 424.65L567.44 425.03L567.89 425.40L568.35 425.78L568.80 426.16L569.26 426.53L569.71 426.91L570.17 427.28L570.62 427.66L571.08 428.03L571.53 428.41L571.98 428.78L572.44 429.16L572.89 429.53L573.35 429.91L573.80 430.28L574.26 430.66L574.72 431.03L575.17 431.40L575.63 431.78L576.08 432.15L576.54 432.53L576.99 432.90L577.45 433.27L577.91 433.65L578.36 434.02L578.82 434.39L579.27 434.77L579.73 435.14L580.19 435.51L580.64 435.88L581.10 436.26L581.56 436.63L582.02 437.00L582.47 437.37L582.93 437.74L583.39 438.11L583.84 438.49L584.30 438.86L584.76 439.23L585.22 439.60L585.68 439.97L586.13 440.34L586.59 440.71L587.05 441.08L587.51 441.45L587.97 441.82L588.43 442.19L588.89 442.56L589.35 442.93L589.81 443.30L590.27 443.67L590.73 444.04L591.19 444.41L591.65 444.77L592.11 445.14L592.57 445.51L593.03 445.88L593.49 446.25L593.95 446.61L594.41 446.98L594.87 447.35L595.33 447.71L595.79 448.08L596.25 448.45L596.72 448.81L597.18 449.18L597.64 449.55L598.10 449.91L598.56 450.28L599.03 450.64L599.49 451.01L599.95 451.37L600.41 451.74L600.88 452.10L601.34 452.47L601.80 452.83L602.26 453.20L602.73 453.57L603.19 453.93L603.65 454.30L604.12 454.66L604.58 455.03L605.04 455.39L605.50 455.76L605.97 456.12L606.43 456.49L606.89 456.85L607.35 457.22L607.82 457.58L608.28 457.95L608.74 458.31L609.20 458.68L609.66 459.05L610.13 459.41L610.59 459.78L611.05 460.14L611.51 460.51L611.97 460.88L612.43 461.25L612.89 461.61L613.36 461.98L613.82 462.35L614.28 462.72L614.74 463.08L615.20 463.45L615.66 463.82L616.12 464.19L616.58 464.56L617.03 464.93L617.49 465.30L617.95 465.67L618.41 466.04L618.87 466.41L619.33 466.78L619.78 467.15L620.24 467.53L620.70 467.90L621.15 468.27L621.61 468.64L622.07 469.02L622.52 469.39L622.98 469.77L623.43 470.14L623.89 470.52L624.34 470.89L624.79 471.27L625.25 471.64L625.70 472.02L626.15 472.40L626.60 472.78L627.06 473.16L627.51 473.54L627.96 473.92L628.41 474.30L628.86 474.68L629.31 475.06L629.76 475.44L630.20 475.82L630.65 476.21L631.10 476.59L631.55 476.97L631.99 477.36L632.44 477.75L632.88 478.13L633.33 478.52L633.77 478.91L634.21 479.29L634.66 479.68L635.10 480.07L635.54 480.46L635.98 480.85L636.42 481.25L636.86 481.64L637.30 482.03L637.74 482.42L638.18 482.82L638.62 483.21L639.05 483.61L639.49 484.01L639.92 484.40L640.36 484.80L640.79 485.20L641.22 485.60L641.66 486.00L642.09 486.40L642.52 486.81L642.95 487.21L643.38 487.61L643.81 488.02L644.24 488.42L644.66 488.83L645.09 489.24L645.51 489.64L645.94 490.05L646.36 490.46L646.79 490.87L647.21 491.28L647.63 491.70L648.05 492.11L648.47 492.52L648.89 492.94L649.31 493.35L649.72 493.77L650.14 494.19L650.55 494.61L650.97 495.02L651.38 495.44L651.79 495.87L652.21 496.29L652.62 496.71L653.03 497.13L653.44 497.56L653.84 497.98L654.25 498.41L654.66 498.84L655.06 499.27L655.46 499.70L655.87 500.13L656.27 500.56L656.67 500.99L657.07 501.42L657.47 501.86L657.87 502.29L658.26 502.73L658.66 503.16L659.05 503.60L659.45 504.04L659.84 504.48L660.23 504.92L660.62 505.36L661.01 505.80L661.40 506.25L661.79 506.69L662.17 507.14L662.56 507.58L662.94 508.03L663.32 508.48L663.70 508.93L664.08 509.38L664.46 509.83L664.84 510.28L665.22 510.74L665.59 511.19L665.97 511.65L666.34 512.10L666.71 512.56L667.08 513.02L667.44 513.48L667.80 513.95L668.16 514.42L668.52 514.89L668.86 515.37L669.21 515.85L669.54 516.33L669.87 516.82L670.19 517.31L670.51 517.81L670.81 518.32L671.10 518.83L671.38 519.35L671.64 519.88L671.88 520.42L672.11 520.96L672.31 521.51L672.48 522.08L672.62 522.65L672.73 523.23L672.79 523.82L672.80 524.40L672.76 524.99L672.66 525.57L672.50 526.14L672.28 526.69L672.02 527.21L671.70 527.71L671.34 528.18L670.94 528.61L670.50 529.00L670.03 529.36L669.54 529.68L669.02 529.97L668.49 530.22L667.94 530.44L667.39 530.64L666.83 530.82L666.26 530.97L665.68 531.10L665.10 531.21L664.52 531.31L663.94 531.39L663.35 531.45L662.77 531.51L662.18 531.55L661.59 531.58L661.00 531.60L660.41 531.61L659.82 531.62L659.23 531.61L658.64 531.60L658.05 531.57L657.47 531.55L656.88 531.51L656.29 531.47L655.70 531.42L655.12 531.37L654.53 531.31L653.94 531.25L653.36 531.18L652.77 531.11L652.19 531.03L651.60 530.95L651.02 530.87L650.44 530.78L649.86 530.68L649.27 530.59L648.69 530.49L648.11 530.38L647.53 530.27L646.96 530.16L646.38 530.05L645.80 529.93L645.22 529.81L644.65 529.69L644.07 529.56L643.50 529.43L642.92 529.30L642.35 529.17L641.77 529.03L641.20 528.89L640.63 528.74L640.06 528.60L639.49 528.45L638.92 528.30L638.35 528.14L637.78 527.98L637.22 527.82L636.65 527.66L636.08 527.50L635.52 527.33L634.95 527.16L634.39 526.99L633.83 526.82L633.26 526.65L632.70 526.47L632.14 526.30L631.58 526.12L631.01 525.94L630.45 525.76L629.89 525.58L629.33 525.40L628.77 525.21L628.21 525.03L627.65 524.85L627.09 524.66L626.53 524.48L625.97 524.29L625.41 524.10L624.85 523.92L624.30 523.73L623.74 523.54L623.18 523.35L622.62 523.16L622.06 522.97L621.51 522.77L620.95 522.58L620.39 522.39L619.84 522.19L619.28 522.00L618.73 521.80L618.17 521.60L617.62 521.40L617.06 521.21L616.51 521.01L615.95 520.81L615.40 520.61L614.84 520.40L614.29 520.20L613.74 520.00L613.18 519.80L612.63 519.59L612.08 519.39L611.53 519.18L610.97 518.97L610.42 518.77L609.87 518.56L609.32 518.35L608.77 518.14L608.22 517.93L607.67 517.72L607.12 517.51L606.57 517.30L606.02 517.08L605.47 516.87L604.92 516.66L604.37 516.44L603.82 516.23L603.27 516.01L602.73 515.79L602.18 515.57L601.63 515.36L601.08 515.14L600.54 514.92L599.99 514.70L599.44 514.48L598.90 514.25L598.35 514.03L597.81 513.81L597.26 513.59L596.72 513.36L596.17 513.14L595.63 512.91L595.08 512.68L594.54 512.46L593.99 512.23L593.45 512.00L592.91 511.77L592.36 511.54L591.82 511.31L591.28 511.08L590.74 510.85L590.20 510.62L589.65 510.39L589.11 510.15L588.57 509.92L588.03 509.68L587.49 509.45L586.95 509.21L586.41 508.98L585.87 508.74L585.33 508.50L584.79 508.26L584.25 508.03L583.72 507.79L583.18 507.55L582.64 507.31L582.10 507.06L581.56 506.82L581.03 506.58L580.49 506.34L579.95 506.09L579.42 505.85L578.88 505.60L578.34 505.36L577.81 505.11L577.27 504.87L576.74 504.62L576.20 504.37L575.67 504.12L575.14 503.87L574.60 503.62L574.07 503.37L573.53 503.12L573.00 502.87L572.47 502.62L571.94 502.37L571.40 502.11L570.87 501.86L570.34 501.61L569.81 501.35L569.28 501.10L568.75 500.84L568.22 500.58L567.68 500.33L567.15 500.07L566.62 499.81L566.10 499.55L565.57 499.29L565.04 499.03L564.51 498.77L563.98 498.51L563.45 498.25L562.92 497.99L562.40 497.73L561.87 497.46L561.34 497.20L560.81 496.94L560.29 496.67L559.76 496.41L559.23 496.14L558.71 495.88L558.18 495.61L557.66 495.34L557.13 495.07L556.61 494.80L556.08 494.54L555.56 494.27L555.04 494.00L554.51 493.73L553.99 493.45L553.47 493.18L552.94 492.91L552.42 492.64L551.90 492.36L551.38 492.09L550.86 491.82L550.33 491.54L549.81 491.27L549.29 490.99L548.77 490.71L548.25 490.44L547.73 490.16L547.21 489.88L546.69 489.60L546.17 489.33L545.65 489.05L545.13 488.77L544.62 488.49L544.10 488.20L543.58 487.92L543.06 487.64L542.55 487.36L542.03 487.08L541.51 486.79L541.00 486.51L540.48 486.22L539.96 485.94L539.45 485.65L538.93 485.37L538.42 485.08L537.90 484.79L537.39 484.51L536.87 484.22L536.36 483.93L535.85 483.64L535.33 483.35L534.82 483.06L534.31 482.77L533.79 482.48L533.28 482.19L532.77 481.90L532.26 481.60L531.75 481.31L531.24 481.02L530.72 480.72L530.21 480.43L529.70 480.13L529.19 479.84L528.68 479.54L528.17 479.25L527.66 478.95L527.16 478.65L526.65 478.36L526.14 478.06L525.63 477.76L525.12 477.46L524.62 477.16L524.11 476.86L523.60 476.56L523.09 476.26L522.59 475.96L522.08 475.65L521.58 475.35L521.07 475.05L520.57 474.74L520.06 474.44L519.56 474.14L519.05 473.83L518.55 473.52L518.05 473.22L517.54 472.91L517.04 472.60L516.54 472.30L516.03 471.99L515.53 471.68L515.03 471.37L514.53 471.06L514.03 470.75L513.53 470.44L513.03 470.13L512.53 469.81L512.03 469.50L511.53 469.19L511.03 468.87L510.53 468.56L510.03 468.24L509.54 467.93L509.04 467.61L508.54 467.30L508.04 466.98L507.55 466.66L507.05 466.34L506.56 466.02L506.06 465.70L505.57 465.38L505.07 465.06L504.58 464.74L504.08 464.42L503.59 464.10L503.10 463.77L502.61 463.45L502.11 463.13L501.62 462.80L501.13 462.48L500.64 462.15L500.15 461.82L499.66 461.50L499.17 461.17L498.68 460.84L498.19 460.51L497.70 460.18L497.21 459.85L496.73 459.52L496.24 459.19L495.75 458.86L495.26 458.52L494.78 458.19L494.29 457.86L493.81 457.52L493.32 457.19L492.84 456.85L492.35 456.51L491.87 456.18L491.39 455.84L490.91 455.50L490.42 455.16L489.94 454.82L489.46 454.48L488.98 454.14L488.50 453.80L488.02 453.46L487.54 453.11L487.06 452.77L486.58 452.43L486.11 452.08L485.63 451.74L485.15 451.39L484.68 451.04L484.20 450.69L483.72 450.35L483.25 450.00L482.77 449.65L482.30 449.30L481.83 448.95L481.35 448.60L480.88 448.24L480.41 447.89L479.94 447.54L479.47 447.18L479.00 446.83L478.53 446.47L478.06 446.12L477.59 445.76L477.12 445.40L476.65 445.04L476.18 444.68L475.72 444.32L475.25 443.96L474.78 443.60L474.32 443.24L473.85 442.88L473.39 442.51L472.93 442.15L472.46 441.79L472.00 441.42L471.54 441.05L471.08 440.69L470.62 440.32L470.16 439.95L469.70 439.58L469.24 439.21L468.78 438.84L468.32 438.47L467.86 438.10L467.41 437.73L466.95 437.36L466.49 436.98L466.04 436.61L465.59 436.23L465.13 435.86L464.68 435.48L464.23 435.10L463.77 434.72L463.32 434.35L462.87 433.97L462.42 433.59L461.97 433.20L461.52 432.82L461.07 432.44L460.63 432.06L460.18 431.67L459.73 431.29L459.29 430.90L458.84 430.52L458.39 430.13L457.95 429.74L457.51 429.36L457.06 428.97L456.62 428.58L456.18 428.19L455.74 427.80L455.30 427.40L454.86 427.01L454.42 426.62L453.98 426.22L453.54 425.83L453.11 425.43L452.67 425.04L452.24 424.64L451.80 424.24L451.37 423.84L450.93 423.44L450.50 423.05L450.07 422.64L449.64 422.24L449.20 421.84L448.77 421.44L448.35 421.03L447.92 420.63L447.49 420.23L447.06 419.82L446.63 419.41L446.21 419.01L445.78 418.60L445.36 418.19L444.93 417.78L444.51 417.37L444.09 416.96L443.67 416.55L443.24 416.14L442.82 415.72L442.40 415.31L441.99 414.89L441.57 414.48L441.15 414.06L440.73 413.65L440.32 413.23L439.90 412.81L439.49 412.39L439.07 411.97L438.66 411.55L438.25 411.13L437.84 410.71L437.42 410.29L437.01 409.86L436.61 409.44L436.20 409.01L435.79 408.59L435.38 408.16L434.98 407.74L434.57 407.31L434.16 406.88L433.76 406.45L433.36 406.02L432.95 405.59L432.55 405.16L432.15 404.73L431.75 404.29L431.35 403.86L430.95 403.43L430.56 402.99L430.16 402.56L429.76 402.12L429.37 401.68L428.97 401.25L428.58 400.81L428.19 400.37L427.79 399.93L427.40 399.49L427.01 399.05L426.62 398.60L426.23 398.16L425.85 397.72L425.46 397.27L425.08 396.82L424.69 396.38L424.31 395.93L423.93 395.48L423.55 395.03L423.17 394.58L422.79 394.12L422.42 393.67L422.04 393.21L421.67 392.76L421.30 392.30L420.93 391.84L420.56 391.38L420.19 390.92L419.83 390.46L419.47 389.99L419.11 389.53L418.75 389.06L418.39 388.59L418.03 388.12L417.68 387.65L417.33 387.18L416.98 386.70L416.63 386.22L416.29 385.75L415.94 385.27L415.60 384.79L415.26 384.30L414.93 383.82L414.59 383.33L414.26 382.85L413.93 382.36L413.61 381.87L413.28 381.37L412.96 380.88L412.64 380.38L412.33 379.89L412.02 379.39L411.71 378.88L411.40 378.38L411.10 377.88L410.80 377.37L410.50 376.86L410.21 376.35L409.92 375.84L409.63 375.32L409.35 374.80L409.07 374.28L408.79 373.76L408.52 373.24L408.25 372.72L407.98 372.19L407.72 371.66L407.47 371.13L407.21 370.60L406.96 370.07L406.72 369.53L406.48 368.99L406.24 368.45L406.01 367.91L405.78 367.37L405.56 366.82L405.34 366.27L405.13 365.72L404.92 365.17L404.71 364.62L404.52 364.06L404.32 363.51L404.13 362.95L403.95 362.39L403.77 361.83L403.60 361.26L403.43 360.70L403.27 360.13L403.11 359.56L402.96 359.00L402.81 358.42L402.67 357.85L402.54 357.28L402.41 356.70L402.29 356.13L402.17 355.55L402.06 354.97L401.96 354.39L401.86 353.81L401.76 353.23L401.68 352.64L401.60 352.06L401.52 351.48L401.45 350.89L401.39 350.30L401.34 349.72L401.29 349.13L401.24 348.54L401.21 347.95L401.18 347.36Z" fill="none" stroke="#0000ff" stroke-width="2.3" stroke-linejoin="round"/><path d="M415.3 328.6h0M413.3 331.2h0M412.8 333.8h0M413.5 336.3h0M415.3 338.6h0M418.4 340.7h0M423.3 343.5h0M428.3 346.2h0M434.7 349.3h0M432.7 332.2h0M431.2 333.8h0M431.7 335.8h0M433.2 337.8h0M435.8 339.9h0M439.9 342.9h0M445.0 346.8h0M452.1 352.1h0M460.8 358.3h0M404.1 342.4h0M405.1 346.0h0M407.2 349.1h0M409.7 351.6h0M412.8 353.7h0M416.9 354.9h0M421.3 355.4h0M426.1 355.9h0M432.2 357.3h0M439.9 359.8h0M449.6 363.7h0M460.8 369.5h0M409.2 367.0h0M411.2 369.5h0M413.8 372.1h0M416.4 374.6h0M419.4 375.6h0M422.5 373.6h0M426.1 371.0h0M430.1 369.0h0M435.3 367.7h0M441.9 368.0h0M450.8 370.0h0M461.8 374.9h0M461.1 345.3h0M464.4 353.7h0M469.5 358.3h0M452.1 358.8h0M463.4 366.5h0M469.5 365.9h0M441.4 378.2h0M438.3 381.3h0M436.8 385.9h0M436.8 390.5h0M446.8 376.4h0M455.0 377.2h0M465.1 380.8h0M460.3 383.8h0M453.1 384.1h0M449.6 387.4h0M469.5 385.4h0M464.1 346.2h0M467.2 348.3h0M471.2 350.3h0M476.3 353.4h0M461.5 350.3h0M476.9 364.6h0M474.3 377.9h0M476.7 375.2h0M475.1 382.2h0M483.3 375.9h0M485.5 371.8h0M493.2 368.7h0M494.2 370.8h0M497.8 370.3h0M501.4 372.3h0M496.8 374.1h0M506.5 375.4h0M500.9 378.7h0M495.8 381.0h0M491.2 385.8h0M489.1 388.1h0M497.0 386.9h0M507.2 384.9h0M507.8 391.4h0M515.2 392.4h0M504.5 399.9h0M506.5 398.4h0M511.6 399.2h0M521.3 403.3h0M524.6 401.6h0M532.2 398.8h0M533.7 401.9h0M536.2 400.3h0M540.3 402.9h0M536.8 405.9h0M526.5 412.6h0M535.7 412.1h0M534.7 416.2h0M541.3 411.4h0M544.4 406.5h0M548.0 417.9h0M547.0 423.6h0M540.5 425.9h0M548.0 429.1h0M556.0 426.1h0M558.9 435.1h0M564.9 435.3h0M560.0 441.0h0M572.5 433.0h0M574.6 436.6h0M576.1 433.0h0M580.2 436.1h0M577.6 440.4h0M584.1 439.2h0M573.8 445.1h0M569.1 446.5h0M581.7 445.8h0M587.1 451.9h0M582.2 454.5h0M610.0 466.1h0M611.1 467.6h0M613.6 466.8h0M617.2 468.6h0M620.8 471.2h0M625.4 474.7h0M630.5 478.3h0M635.6 482.9h0M640.7 487.2h0M612.4 472.5h0M614.6 476.3h0M616.2 480.4h0M616.5 484.5h0M614.9 487.8h0M610.5 489.8h0M619.2 497.7h0M625.9 497.9h0M630.5 497.0h0M633.5 495.7h0M636.1 493.9h0M638.6 492.8h0M641.2 493.1h0M643.8 494.2h0M646.3 495.9h0M649.4 497.9h0M652.4 500.3h0M593.0 459.1h0M588.6 463.7h0M598.1 466.4h0M592.0 470.7h0M591.3 475.3h0M601.9 472.9h0M603.2 478.3h0M600.8 481.9h0M595.0 482.9h0M592.0 486.8h0M602.9 489.4h0M597.3 492.6h0M600.1 497.0h0M597.8 500.1h0M588.3 499.3h0M587.6 504.2h0M593.7 507.4h0M601.4 505.6h0M609.7 496.0h0M613.6 501.8h0M611.8 505.9h0M624.6 505.2h0M633.2 507.2h0M640.2 509.0h0M645.3 509.5h0M586.5 508.0h0M437.6 395.4h0M438.2 399.3h0M437.9 403.4h0M435.8 403.9h0M433.8 402.6h0M430.7 400.3h0M427.7 397.3h0M424.6 394.2h0M448.1 392.7h0M449.1 399.3h0M457.3 394.9h0M457.6 401.4h0M451.9 406.7h0M460.7 409.5h0M466.0 408.0h0M455.6 413.8h0M459.3 420.5h0M466.0 418.9h0M470.8 417.2h0M462.9 425.9h0M466.0 430.0h0M467.0 433.8h0M468.0 435.1h0M473.1 428.2h0M478.8 421.8h0M478.5 427.4h0M481.1 437.1h0M488.3 433.0h0M488.3 438.3h0M488.3 445.1h0M494.9 436.0h0M500.1 444.7h0M499.8 449.1h0M495.7 451.9h0M508.2 447.9h0M501.1 457.0h0M505.4 461.1h0M507.5 464.1h0M514.1 456.5h0M511.4 458.8h0M523.6 460.4h0M529.1 461.2h0M522.5 467.5h0M528.7 467.5h0M532.5 475.0h0M540.2 471.9h0M546.8 472.9h0M548.9 471.6h0M543.5 477.7h0M540.7 481.1h0M547.3 485.4h0M577.5 456.5h0M582.3 464.5h0M611.4 510.7h0M579.7 499.5h0M581.8 492.6h0M584.1 490.3h0M582.6 486.5h0M578.2 481.8h0M573.4 491.6h0M569.3 493.6h0M565.7 478.5h0M566.8 481.9h0M564.4 483.4h0M557.3 482.4h0M557.1 486.2h0M551.6 488.7h0M554.2 491.3h0M597.6 510.7h0M656.2 503.7h0M660.1 506.6h0M663.0 509.5h0M649.5 511.0h0M653.4 512.4h0M657.2 514.3h0M661.1 516.2h0M664.9 518.2h0M667.8 521.1h0M669.7 524.0h0M640.4 516.7h0M646.4 519.1h0M650.9 520.9h0M654.8 522.5h0M658.0 524.4h0M659.6 526.8h0M658.7 528.3h0M623.0 510.5h0M632.6 514.1h0M620.1 514.8h0M626.9 518.0h0M631.7 520.3h0M635.5 522.5h0M636.5 524.0h0" stroke="#0000ff" stroke-width="2.20" stroke-linecap="round" fill="none"/></g>
<path d="M384.50 535.30v-3.0M384.50 308.60v3.0M442.52 535.30v-3.0M442.52 308.60v3.0M500.54 535.30v-3.0M500.54 308.60v3.0M558.56 535.30v-3.0M558.56 308.60v3.0M616.58 535.30v-3.0M616.58 308.60v3.0M674.60 535.30v-3.0M674.60 308.60v3.0M384.50 535.30h3.0M674.60 535.30h-3.0M384.50 510.11h3.0M674.60 510.11h-3.0M384.50 484.92h3.0M674.60 484.92h-3.0M384.50 459.73h3.0M674.60 459.73h-3.0M384.50 434.54h3.0M674.60 434.54h-3.0M384.50 409.36h3.0M674.60 409.36h-3.0M384.50 384.17h3.0M674.60 384.17h-3.0M384.50 358.98h3.0M674.60 358.98h-3.0M384.50 333.79h3.0M674.60 333.79h-3.0M384.50 308.60h3.0M674.60 308.60h-3.0" stroke="#000" stroke-width="1.1" fill="none"/>
<rect x="384.50" y="308.60" width="290.10" height="226.70" fill="none" stroke="#000" stroke-width="1"/>
<g class="tl"><text x="384.50" y="548.50" text-anchor="middle">0.4</text><text x="442.52" y="548.50" text-anchor="middle">0.45</text><text x="500.54" y="548.50" text-anchor="middle">0.5</text><text x="558.56" y="548.50" text-anchor="middle">0.55</text><text x="616.58" y="548.50" text-anchor="middle">0.6</text><text x="674.60" y="548.50" text-anchor="middle">0.65</text><text x="381.40" y="539.10" text-anchor="end">0.5</text><text x="381.40" y="513.91" text-anchor="end">0.55</text><text x="381.40" y="488.72" text-anchor="end">0.6</text><text x="381.40" y="463.53" text-anchor="end">0.65</text><text x="381.40" y="438.34" text-anchor="end">0.7</text><text x="381.40" y="413.16" text-anchor="end">0.75</text><text x="381.40" y="387.97" text-anchor="end">0.8</text><text x="381.40" y="362.78" text-anchor="end">0.85</text><text x="381.40" y="337.59" text-anchor="end">0.9</text><text x="381.40" y="312.40" text-anchor="end">0.95</text></g>
<text class="al" x="529.55" y="565.80" text-anchor="middle">x</text>
<text class="al" x="0" y="0" text-anchor="middle" transform="translate(357.50 421.25) rotate(-90)">y</text>
<text class="cap" x="515.40" y="592.30" text-anchor="middle">(d)</text>
<clipPath id="clipe"><rect x="33.50" y="614.60" width="290.80" height="226.60"/></clipPath>
<g clip-path="url(#clipe)"><path d="M75.41 633.35L75.86 633.53L76.30 633.71L76.74 633.89L77.18 634.08L77.62 634.26L78.06 634.46L78.50 634.65L78.94 634.85L79.37 635.05L79.80 635.25L80.24 635.46L80.67 635.66L81.10 635.88L81.52 636.09L81.95 636.31L82.38 636.53L82.80 636.75L83.22 636.98L83.64 637.20L84.06 637.43L84.48 637.67L84.90 637.90L85.31 638.14M90.18 641.17L90.58 641.44L90.98 641.71L91.37 641.98L91.77 642.25L92.16 642.53L92.55 642.80L92.94 643.08L93.33 643.36L93.71 643.64L94.10 643.92L94.49 644.21L94.87 644.49L95.25 644.78L95.63 645.07L96.01 645.36L96.39 645.65L96.77 645.94L97.15 646.24L97.53 646.53L97.90 646.83L98.28 647.13L98.65 647.43L99.02 647.73L99.39 648.03L99.76 648.33L100.13 648.64L100.50 648.94L100.87 649.25L101.24 649.55L101.60 649.86L101.97 650.17L102.33 650.48M107.38 654.88L107.74 655.20L108.10 655.52L108.45 655.84L108.81 656.16L109.17 656.48L109.52 656.80L109.88 657.12L110.23 657.44L110.59 657.76L110.94 658.08L111.30 658.40L111.65 658.72L112.01 659.04L112.36 659.36L112.72 659.68L113.07 660.00L113.43 660.32L113.78 660.64L114.14 660.96L114.49 661.29L114.85 661.61L115.21 661.93L115.56 662.25L115.92 662.57L116.27 662.89L116.63 663.21L116.99 663.52L117.34 663.84L117.70 664.16L118.05 664.48L118.41 664.80L118.77 665.12L119.12 665.44L119.48 665.76L119.84 666.08L120.20 666.40L120.55 666.71L120.91 667.03L121.27 667.35L121.62 667.67L121.98 667.99L122.34 668.30L122.70 668.62L123.06 668.94L123.41 669.26L123.77 669.57L124.13 669.89L124.49 670.21M129.52 674.63L129.88 674.95L130.24 675.26L130.60 675.58L130.96 675.89L131.32 676.21L131.68 676.52L132.04 676.84L132.40 677.15L132.76 677.47L133.12 677.78L133.48 678.09L133.84 678.41L134.21 678.72L134.57 679.04L134.93 679.35L135.29 679.66L135.65 679.98L136.01 680.29L136.38 680.60L136.74 680.92L137.10 681.23L137.46 681.54L137.82 681.85L138.19 682.17L138.55 682.48L138.91 682.79L139.27 683.10L139.64 683.42L140.00 683.73L140.36 684.04L140.72 684.35L141.09 684.66L141.45 684.97L141.81 685.29L142.18 685.60L142.54 685.91L142.90 686.22L143.27 686.53L143.63 686.84L144.00 687.15L144.36 687.46L144.72 687.77L145.09 688.08L145.45 688.39L145.82 688.70L146.18 689.01L146.55 689.32L146.91 689.63L147.28 689.94L147.64 690.25L148.01 690.56L148.37 690.87L148.74 691.18L149.10 691.49L149.47 691.80L149.83 692.11L150.20 692.42L150.56 692.72L150.93 693.03M156.06 697.34L156.42 697.65L156.79 697.96L157.16 698.26L157.53 698.57L157.89 698.88L158.26 699.18L158.63 699.49L159.00 699.79L159.36 700.10L159.73 700.41L160.10 700.71L160.47 701.02L160.84 701.32L161.20 701.63L161.57 701.93L161.94 702.24L162.31 702.55L162.68 702.85L163.05 703.16L163.42 703.46L163.79 703.77L164.15 704.07L164.52 704.37L164.89 704.68L165.26 704.98L165.63 705.29L166.00 705.59L166.37 705.90L166.74 706.20L167.11 706.50L167.48 706.81L167.85 707.11L168.22 707.41L168.59 707.72L168.96 708.02L169.33 708.32L169.70 708.63L170.07 708.93L170.44 709.23L170.81 709.54L171.18 709.84L171.55 710.14L171.92 710.44L172.29 710.75L172.66 711.05L173.04 711.35L173.41 711.65L173.78 711.95L174.15 712.26L174.52 712.56L174.89 712.86L175.26 713.16L175.64 713.46L176.01 713.76L176.38 714.06L176.75 714.37L177.12 714.67L177.49 714.97L177.87 715.27L178.24 715.57L178.61 715.87L178.98 716.17M184.21 720.36L184.58 720.66L184.95 720.96L185.33 721.26L185.70 721.56L186.08 721.86L186.45 722.16L186.82 722.46L187.20 722.75L187.57 723.05L187.95 723.35L188.32 723.65L188.70 723.95L189.07 724.24L189.44 724.54L189.82 724.84L190.19 725.14L190.57 725.43L190.94 725.73L191.32 726.03L191.69 726.32L192.07 726.62L192.44 726.92L192.82 727.21L193.20 727.51L193.57 727.81L193.95 728.10L194.32 728.40L194.70 728.70L195.07 728.99L195.45 729.29L195.83 729.59L196.20 729.88L196.58 730.18L196.95 730.47L197.33 730.77L197.71 731.06L198.08 731.36L198.46 731.66L198.84 731.95L199.21 732.25L199.59 732.54L199.97 732.84L200.34 733.13L200.72 733.43L201.10 733.72L201.47 734.02L201.85 734.31L202.23 734.60L202.60 734.90L202.98 735.19L203.36 735.49L203.74 735.78L204.11 736.08L204.49 736.37L204.87 736.66L205.25 736.96L205.62 737.25L206.00 737.55L206.38 737.84M211.67 741.95L212.05 742.24L212.43 742.53L212.81 742.82L213.19 743.12L213.56 743.41L213.94 743.70L214.32 743.99L214.70 744.29L215.08 744.58L215.46 744.87L215.84 745.16L216.22 745.45L216.60 745.75L216.97 746.04L217.35 746.33L217.73 746.62L218.11 746.91L218.49 747.21L218.87 747.50L219.25 747.79L219.63 748.08L220.01 748.37L220.39 748.66L220.77 748.96L221.15 749.25L221.53 749.54L221.91 749.83L222.29 750.12L222.67 750.41L223.05 750.70L223.42 750.99L223.80 751.29L224.18 751.58L224.56 751.87L224.94 752.16L225.32 752.45L225.70 752.74L226.08 753.03L226.46 753.32L226.84 753.61L227.22 753.90L227.60 754.19L227.98 754.49L228.36 754.78L228.74 755.07L229.12 755.36L229.50 755.65L229.89 755.94L230.27 756.23L230.65 756.52L231.03 756.81L231.41 757.10L231.79 757.39L232.17 757.68L232.55 757.97L232.93 758.26L233.31 758.55L233.69 758.84L234.07 759.13L234.45 759.42L234.83 759.71L235.21 760.00M240.54 764.06L240.92 764.35L241.30 764.64L241.68 764.93L242.06 765.22L242.44 765.51L242.83 765.80L243.21 766.09L243.59 766.38L243.97 766.67L244.35 766.96L244.73 767.25L245.11 767.54L245.49 767.82L245.87 768.11L246.25 768.40L246.63 768.69L247.02 768.98L247.40 769.27L247.78 769.56L248.16 769.85L248.54 770.14L248.92 770.43L249.30 770.72L249.68 771.01L250.06 771.30L250.44 771.59L250.83 771.88L251.21 772.17L251.59 772.46L251.97 772.75L252.35 773.04L252.73 773.33L253.11 773.62L253.49 773.90L253.87 774.19L254.25 774.48L254.63 774.77L255.02 775.06L255.40 775.35L255.78 775.64L256.16 775.93L256.54 776.22L256.92 776.51L257.30 776.80L257.68 777.09L258.06 777.38L258.44 777.67L258.82 777.96L259.21 778.25L259.59 778.54M264.92 782.60L265.30 782.89L265.68 783.18L266.06 783.47L266.44 783.76L266.82 784.05L267.20 784.34L267.58 784.63L267.96 784.92L268.34 785.21L268.72 785.50L269.10 785.79L269.48 786.08L269.86 786.37L270.24 786.66L270.62 786.95L271.01 787.24L271.39 787.53L271.77 787.82L272.15 788.11L272.53 788.40L272.91 788.69L273.29 788.98L273.67 789.27L274.05 789.56L274.43 789.85L274.81 790.14L275.19 790.43L275.57 790.72L275.95 791.02L276.33 791.31L276.71 791.60L277.09 791.89L277.47 792.18L277.85 792.47L278.23 792.76L278.61 793.05L278.99 793.34L279.37 793.63L279.75 793.93L280.12 794.22L280.50 794.51L280.88 794.80L281.26 795.09L281.64 795.38L282.02 795.67L282.40 795.97M287.70 800.06L288.08 800.36L288.45 800.66L288.83 800.95L289.20 801.25L289.58 801.55L289.95 801.85L290.32 802.15L290.69 802.45L291.06 802.76L291.43 803.06L291.80 803.37L292.17 803.67L292.53 803.98L292.90 804.29L293.26 804.60L293.62 804.91L293.99 805.23L294.34 805.54L294.70 805.86L295.06 806.18L295.42 806.50L295.77 806.82L296.12 807.14L296.47 807.47L296.82 807.80L297.17 808.13L297.51 808.46L297.85 808.79L298.20 809.13L298.53 809.47L298.87 809.81L299.21 810.15L299.54 810.49L299.87 810.84L300.20 811.19L300.52 811.54L300.84 811.89L301.16 812.25L301.48 812.61L301.80 812.97L302.11 813.33L302.42 813.70L302.72 814.06L303.03 814.43L303.33 814.81L303.62 815.18L303.92 815.56L304.21 815.94L304.49 816.32L304.78 816.71L305.06 817.09L305.34 817.48L305.61 817.88L305.88 818.27L306.15 818.67L306.41 819.07L306.67 819.47L306.93 819.87L307.18 820.28L307.42 820.70L307.65 821.11L307.88 821.53L308.09 821.96L308.29 822.40L308.46 822.84L308.61 823.30L308.72 823.76L308.76 824.24L308.70 824.71L308.49 825.14L308.15 825.48L307.74 825.72L307.29 825.88L306.83 825.99L306.36 826.07L305.88 826.12L305.40 826.15L304.92 826.16L304.45 826.16L303.97 826.15L303.49 826.13L303.01 826.11L302.53 826.08L302.06 826.04L301.58 826.01L301.10 825.97L300.62 825.93L300.15 825.89L299.67 825.85L299.19 825.81L298.72 825.77L298.24 825.72L297.77 825.67L297.29 825.62L296.81 825.57L296.34 825.52M289.70 824.66L289.22 824.59L288.75 824.51L288.28 824.44L287.81 824.36L287.33 824.28L286.86 824.20L286.39 824.12L285.92 824.04L285.45 823.96L284.98 823.88L284.50 823.79L284.03 823.70L283.56 823.62L283.09 823.53L282.62 823.44L282.15 823.34L281.68 823.25L281.22 823.16L280.75 823.06L280.28 822.97L279.81 822.87L279.34 822.77L278.87 822.67L278.41 822.57L277.94 822.46L277.47 822.36L277.00 822.26L276.54 822.15L276.07 822.04L275.61 821.93L275.14 821.82L274.67 821.71L274.21 821.60L273.74 821.49L273.28 821.37M266.81 819.66L266.35 819.53L265.88 819.39L265.43 819.26L264.97 819.13L264.51 818.99L264.05 818.86L263.59 818.72L263.13 818.58L262.67 818.44L262.22 818.30L261.76 818.16L261.30 818.02L260.84 817.88L260.39 817.74L259.93 817.59L259.48 817.45L259.02 817.30L258.56 817.15L258.11 817.00L257.65 816.86L257.20 816.71L256.75 816.56L256.29 816.40L255.84 816.25L255.39 816.10L254.93 815.94L254.48 815.79L254.03 815.63L253.58 815.48L253.12 815.32L252.67 815.16L252.22 815.00L251.77 814.84L251.32 814.68L250.87 814.52L250.42 814.35L249.97 814.19L249.52 814.03L249.07 813.86L248.62 813.70L248.17 813.53L247.73 813.36L247.28 813.19L246.83 813.03L246.38 812.86L245.94 812.69L245.49 812.51L245.04 812.34L244.60 812.17L244.15 812.00L243.70 811.82M237.49 809.32L237.05 809.14L236.61 808.95L236.17 808.77L235.72 808.58L235.28 808.40L234.84 808.21L234.40 808.02L233.96 807.83L233.52 807.65L233.08 807.46L232.64 807.27L232.20 807.08L231.76 806.89L231.33 806.70L230.89 806.51L230.45 806.31L230.01 806.12L229.57 805.93L229.14 805.73L228.70 805.54L228.26 805.35L227.82 805.15L227.39 804.95L226.95 804.76L226.52 804.56L226.08 804.37L225.64 804.17L225.21 803.97L224.77 803.77L224.34 803.57L223.90 803.37L223.47 803.17L223.03 802.97L222.60 802.77L222.16 802.57L221.73 802.37L221.30 802.17L220.86 801.97L220.43 801.77L219.99 801.56L219.56 801.36L219.13 801.16L218.70 800.95L218.26 800.75L217.83 800.54L217.40 800.34L216.97 800.13L216.53 799.93L216.10 799.72L215.67 799.51L215.24 799.31L214.81 799.10L214.38 798.89L213.95 798.69L213.51 798.48L213.08 798.27L212.65 798.06L212.22 797.85L211.79 797.64M205.78 794.69L205.35 794.48L204.92 794.26L204.49 794.05L204.07 793.84L203.64 793.62L203.21 793.41L202.78 793.19L202.35 792.98L201.93 792.77L201.50 792.55L201.07 792.34L200.64 792.12L200.22 791.91L199.79 791.69L199.36 791.47L198.94 791.26L198.51 791.04L198.08 790.82L197.66 790.61L197.23 790.39L196.80 790.17L196.38 789.95L195.95 789.74L195.53 789.52L195.10 789.30L194.67 789.08L194.25 788.86L193.82 788.64L193.40 788.42L192.97 788.20L192.55 787.98L192.12 787.76L191.70 787.54L191.27 787.32L190.85 787.10L190.43 786.88L190.00 786.66L189.58 786.43L189.15 786.21L188.73 785.99L188.31 785.77L187.88 785.54L187.46 785.32L187.04 785.10L186.62 784.87L186.19 784.65L185.77 784.42L185.35 784.20L184.93 783.97L184.50 783.75L184.08 783.52L183.66 783.29L183.24 783.07L182.82 782.84L182.40 782.61M176.52 779.40L176.10 779.17L175.68 778.93L175.27 778.70L174.85 778.47L174.43 778.23L174.01 778.00L173.60 777.77L173.18 777.53L172.76 777.30L172.35 777.06L171.93 776.82L171.51 776.59L171.10 776.35L170.68 776.12L170.27 775.88L169.85 775.64L169.44 775.40L169.02 775.16L168.61 774.93L168.19 774.69L167.78 774.45L167.36 774.21L166.95 773.97L166.54 773.73L166.12 773.49L165.71 773.24L165.30 773.00L164.88 772.76L164.47 772.52L164.06 772.27L163.65 772.03L163.24 771.79L162.82 771.54L162.41 771.30L162.00 771.05L161.59 770.81L161.18 770.56L160.77 770.32L160.36 770.07L159.95 769.82L159.54 769.57L159.13 769.33L158.72 769.08L158.31 768.83L157.91 768.58L157.50 768.33L157.09 768.08L156.68 767.83L156.27 767.58L155.87 767.33L155.46 767.08L155.05 766.82L154.65 766.57L154.24 766.32L153.84 766.06L153.43 765.81L153.02 765.56L152.62 765.30M146.98 761.68L146.58 761.42L146.18 761.16L145.78 760.90L145.38 760.63L144.98 760.37L144.58 760.11L144.18 759.84L143.79 759.58L143.39 759.31L142.99 759.04L142.59 758.78L142.20 758.51L141.80 758.24L141.40 757.97L141.01 757.71L140.61 757.44L140.22 757.17L139.82 756.90L139.43 756.63L139.03 756.35L138.64 756.08L138.25 755.81L137.85 755.54L137.46 755.26L137.07 754.99L136.68 754.72L136.28 754.44L135.89 754.17L135.50 753.89L135.11 753.61L134.72 753.34L134.33 753.06L133.94 752.78L133.55 752.50L133.16 752.22L132.77 751.94L132.39 751.66L132.00 751.38L131.61 751.10L131.23 750.82L130.84 750.54L130.45 750.26L130.07 749.97L129.68 749.69L129.30 749.40L128.91 749.12L128.53 748.83L128.15 748.55L127.76 748.26L127.38 747.97L127.00 747.69L126.62 747.40L126.23 747.11L125.85 746.82L125.47 746.53M120.19 742.41L119.82 742.11L119.44 741.81L119.07 741.51L118.70 741.21L118.32 740.91L117.95 740.61L117.58 740.31L117.21 740.01L116.84 739.70L116.47 739.40L116.10 739.10L115.73 738.79L115.36 738.49L115.00 738.18L114.63 737.87L114.26 737.56L113.90 737.26L113.53 736.95L113.17 736.64L112.80 736.33L112.44 736.02L112.07 735.71L111.71 735.40L111.35 735.08L110.99 734.77L110.62 734.46L110.26 734.14L109.90 733.83L109.54 733.51L109.18 733.20L108.82 732.88L108.47 732.56L108.11 732.25L107.75 731.93L107.39 731.61L107.04 731.29L106.68 730.97L106.33 730.65L105.97 730.33L105.62 730.01L105.26 729.68L104.91 729.36L104.56 729.04L104.21 728.71L103.86 728.39L103.51 728.06L103.16 727.73L102.81 727.41L102.46 727.08L102.11 726.75L101.76 726.42L101.42 726.09L101.07 725.76L100.72 725.43L100.38 725.10M95.61 720.40L95.28 720.05L94.94 719.71L94.61 719.37L94.27 719.03L93.94 718.68L93.61 718.34L93.27 718.00L92.94 717.65L92.61 717.30L92.28 716.96L91.95 716.61L91.62 716.26L91.30 715.91L90.97 715.57L90.64 715.22L90.32 714.87L89.99 714.51L89.67 714.16L89.34 713.81L89.02 713.46L88.70 713.10L88.38 712.75L88.06 712.39L87.74 712.04L87.42 711.68L87.10 711.33L86.78 710.97L86.46 710.61L86.15 710.25L85.83 709.89L85.51 709.53L85.20 709.17L84.89 708.81L84.57 708.45L84.26 708.09L83.95 707.72L83.64 707.36L83.33 707.00L83.02 706.63L82.71 706.26L82.40 705.90L82.09 705.53L81.79 705.16L81.48 704.80L81.18 704.43L80.87 704.06L80.57 703.69L80.27 703.32L79.97 702.95M75.82 697.68L75.53 697.30L75.24 696.92L74.96 696.54L74.67 696.15L74.38 695.77L74.10 695.39L73.81 695.00L73.53 694.62L73.25 694.23L72.96 693.84L72.68 693.46L72.40 693.07L72.12 692.68L71.85 692.29L71.57 691.90L71.29 691.51L71.02 691.12L70.74 690.73L70.47 690.33L70.20 689.94L69.92 689.55L69.65 689.15L69.38 688.76L69.12 688.36L68.85 687.96L68.58 687.57L68.32 687.17L68.05 686.77L67.79 686.37L67.53 685.97L67.26 685.57L67.00 685.17L66.74 684.77L66.49 684.36L66.23 683.96L65.97 683.56L65.72 683.15L65.46 682.75L65.21 682.34L64.96 681.93M61.56 676.16L61.32 675.74L61.09 675.33L60.86 674.91L60.63 674.49L60.40 674.07L60.17 673.65L59.95 673.23L59.72 672.80L59.50 672.38L59.28 671.96L59.06 671.53L58.84 671.11L58.62 670.68L58.40 670.25L58.19 669.83L57.97 669.40L57.76 668.97L57.55 668.54L57.34 668.11L57.13 667.68L56.92 667.25L56.72 666.82L56.51 666.38L56.31 665.95L56.11 665.52L55.91 665.08L55.71 664.65L55.52 664.21L55.32 663.77L55.13 663.34L54.93 662.90L54.74 662.46L54.56 662.02L54.37 661.58L54.18 661.14L54.00 660.70L53.82 660.25L53.63 659.81L53.46 659.37L53.28 658.92L53.11 658.48L52.93 658.03L52.77 657.58L52.60 657.13L52.44 656.68L52.28 656.23L52.13 655.78L51.98 655.32L51.84 654.87L51.70 654.41L51.57 653.95L51.44 653.49L51.32 653.02L51.21 652.56L51.10 652.09L51.00 651.62L50.91 651.15L50.82 650.68L50.75 650.21L50.68 649.74L50.62 649.26L50.57 648.79L50.53 648.31L50.50 647.83L50.48 647.35L50.46 646.88L50.46 646.40L50.47 645.92L50.49 645.44L50.52 644.96L50.56 644.49L50.61 644.01L50.67 643.54L50.74 643.06L50.81 642.59L50.90 642.12L51.00 641.65L51.11 641.19L51.22 640.72L51.35 640.26L51.49 639.80L51.63 639.35L51.79 638.89L51.96 638.45L52.14 638.00L52.32 637.56L52.52 637.13L52.73 636.70L52.95 636.27L53.18 635.85L53.43 635.44L53.69 635.04L53.96 634.64L54.24 634.26L54.53 633.88L54.84 633.51L55.17 633.16L55.50 632.82L55.86 632.50L56.22 632.19L56.60 631.90L57.00 631.63L57.40 631.38L57.83 631.15L58.26 630.95L58.70 630.77L59.16 630.62L59.62 630.50L60.09 630.39L60.56 630.31L61.03 630.25L61.51 630.21L61.99 630.18L62.46 630.18L62.94 630.19L63.42 630.21L63.90 630.24L64.37 630.29L64.85 630.35L65.32 630.42L65.80 630.49L66.27 630.58L66.74 630.67L67.20 630.77L67.67 630.88L68.13 631.00L68.60 631.11L69.06 631.24L69.52 631.37L69.98 631.50L70.44 631.64L70.90 631.78" fill="none" stroke="#0000ff" stroke-width="2.6" stroke-linecap="round" stroke-linejoin="round"/><path d="M57.5 635.8h0M63.2 637.5h0M67.9 634.0h0M75.5 638.8h0M81.2 638.8h0M75.5 643.5h0M64.3 643.5h0M56.5 643.2h0M59.3 651.4h0M55.8 655.5h0M65.2 657.7h0M61.0 665.7h0M67.3 672.1h0M91.7 647.9h0M92.1 651.7h0M98.7 650.7h0M70.1 684.8h0M77.7 691.8h0M85.7 706.8h0M95.4 714.8h0M108.6 730.3h0M121.9 737.4h0M111.7 663.4h0M113.4 667.7h0M120.4 668.5h0M136.5 684.5h0M139.4 689.6h0M146.4 690.4h0M165.7 709.3h0M175.2 714.7h0M195.6 734.6h0M204.3 738.7h0M225.2 757.6h0M151.3 759.9h0M135.0 752.6h0M164.0 772.0h0M181.4 779.6h0M183.3 780.1h0M220.3 749.8h0M232.6 761.5h0M247.4 771.7h0M250.1 779.0h0M258.0 781.8h0M271.1 791.0h0M277.2 798.8h0M194.9 789.2h0M216.8 796.7h0M241.3 804.6h0M250.1 810.2h0M268.5 813.2h0M276.4 818.1h0M284.8 815.5h0M287.2 806.7h0M288.9 805.8h0M287.2 810.2h0M284.5 815.0h0M268.3 813.3h0M296.8 815.9h0M292.8 820.3h0M293.7 823.4h0M302.9 822.0h0M300.7 825.1h0M271.0 791.0h0" stroke="#0000ff" stroke-width="2.30" stroke-linecap="round" fill="none"/></g>
<path d="M33.50 841.20v-3.0M33.50 614.60v3.0M69.85 841.20v-3.0M69.85 614.60v3.0M106.20 841.20v-3.0M106.20 614.60v3.0M142.55 841.20v-3.0M142.55 614.60v3.0M178.90 841.20v-3.0M178.90 614.60v3.0M215.25 841.20v-3.0M215.25 614.60v3.0M251.60 841.20v-3.0M251.60 614.60v3.0M287.95 841.20v-3.0M287.95 614.60v3.0M324.30 841.20v-3.0M324.30 614.60v3.0M33.50 841.20h3.0M324.30 841.20h-3.0M33.50 808.83h3.0M324.30 808.83h-3.0M33.50 776.46h3.0M324.30 776.46h-3.0M33.50 744.09h3.0M324.30 744.09h-3.0M33.50 711.71h3.0M324.30 711.71h-3.0M33.50 679.34h3.0M324.30 679.34h-3.0M33.50 646.97h3.0M324.30 646.97h-3.0M33.50 614.60h3.0M324.30 614.60h-3.0" stroke="#000" stroke-width="1.1" fill="none"/>
<rect x="33.50" y="614.60" width="290.80" height="226.60" fill="none" stroke="#000" stroke-width="1"/>
<g class="tl"><text x="33.50" y="854.40" text-anchor="middle">0.35</text><text x="69.85" y="854.40" text-anchor="middle">0.4</text><text x="106.20" y="854.40" text-anchor="middle">0.45</text><text x="142.55" y="854.40" text-anchor="middle">0.5</text><text x="178.90" y="854.40" text-anchor="middle">0.55</text><text x="215.25" y="854.40" text-anchor="middle">0.6</text><text x="251.60" y="854.40" text-anchor="middle">0.65</text><text x="287.95" y="854.40" text-anchor="middle">0.7</text><text x="324.30" y="854.40" text-anchor="middle">0.75</text><text x="30.40" y="845.00" text-anchor="end">0.4</text><text x="30.40" y="812.63" text-anchor="end">0.5</text><text x="30.40" y="780.26" text-anchor="end">0.6</text><text x="30.40" y="747.89" text-anchor="end">0.7</text><text x="30.40" y="715.51" text-anchor="end">0.8</text><text x="30.40" y="683.14" text-anchor="end">0.9</text><text x="30.40" y="650.77" text-anchor="end">1</text><text x="30.40" y="618.40" text-anchor="end">1.1</text></g>
<text class="al" x="178.90" y="871.70" text-anchor="middle">x</text>
<text class="al" x="0" y="0" text-anchor="middle" transform="translate(12.10 727.20) rotate(-90)">y</text>
<text class="cap" x="165.00" y="898.20" text-anchor="middle">(e)</text>
<clipPath id="clipf"><rect x="384.50" y="614.60" width="290.10" height="226.60"/></clipPath>
<g clip-path="url(#clipf)"><path d="M385.71 641.49L385.61 640.47L385.53 639.45L385.49 638.43L385.48 637.40L385.52 636.38L385.63 635.36L385.82 634.36L386.12 633.38L386.55 632.45L387.14 631.62L387.89 630.92L388.75 630.37L389.69 629.96L390.67 629.68L391.68 629.49L392.70 629.39L393.72 629.36L394.75 629.40L395.77 629.50L396.78 629.66L397.78 629.88L398.76 630.16L399.73 630.49L400.68 630.87L401.62 631.29L402.53 631.75L403.43 632.24L404.31 632.77L405.18 633.31L406.03 633.88L406.87 634.46L407.71 635.05L408.54 635.65L409.36 636.26L410.19 636.87L411.01 637.48L411.83 638.09L412.65 638.70L413.47 639.31L414.29 639.93L415.11 640.55L415.92 641.17L416.74 641.79L417.55 642.42L418.36 643.04L419.17 643.67L419.97 644.31L420.78 644.94L421.58 645.58L422.38 646.22L423.17 646.86L423.97 647.51L424.76 648.15L425.56 648.80L426.35 649.46L427.13 650.11L427.92 650.77L428.71 651.42L429.49 652.08L430.27 652.75L431.05 653.41L431.83 654.07L432.61 654.74L433.38 655.41L434.16 656.08L434.93 656.75L435.70 657.43L436.47 658.10L437.24 658.78L438.01 659.46L438.78 660.13L439.54 660.81L440.31 661.49L441.07 662.18L441.84 662.86L442.60 663.54L443.36 664.23L444.12 664.91L444.88 665.60L445.64 666.29L446.40 666.98L447.16 667.67L447.91 668.35L448.67 669.04L449.43 669.74L450.18 670.43L450.94 671.12L451.70 671.81L452.45 672.50L453.21 673.19L453.96 673.89L454.72 674.58L455.47 675.27L456.22 675.96L456.98 676.66L457.73 677.35L458.49 678.04L459.24 678.74L460.00 679.43L460.75 680.12L461.51 680.81L462.26 681.50L463.02 682.19L463.77 682.89L464.53 683.58L465.29 684.27L466.05 684.96L466.80 685.64L467.56 686.33L468.32 687.02L469.08 687.71L469.84 688.39L470.60 689.08L471.36 689.76L472.13 690.45L472.89 691.13L473.65 691.82L474.42 692.50L475.18 693.18L475.95 693.86L476.71 694.54L477.48 695.22L478.24 695.90L479.01 696.58L479.78 697.26L480.55 697.93L481.32 698.61L482.09 699.29L482.86 699.96L483.63 700.63L484.40 701.31L485.17 701.98L485.94 702.65L486.72 703.33L487.49 704.00L488.27 704.67L489.04 705.33L489.82 706.00L490.60 706.67L491.37 707.34L492.15 708.00L492.93 708.67L493.71 709.33L494.49 710.00L495.27 710.66L496.05 711.32L496.83 711.99L497.61 712.65L498.40 713.31L499.18 713.97L499.97 714.63L500.75 715.28L501.54 715.94L502.32 716.60L503.11 717.25L503.90 717.91L504.69 718.56L505.48 719.21L506.27 719.87L507.06 720.52L507.85 721.17L508.64 721.82L509.43 722.47L510.22 723.12L511.02 723.76L511.81 724.41L512.61 725.06L513.40 725.70L514.20 726.35L515.00 726.99L515.79 727.63L516.59 728.27L517.39 728.91L518.19 729.55L518.99 730.19L519.79 730.83L520.59 731.47L521.40 732.11L522.20 732.74L523.00 733.38L523.81 734.01L524.61 734.65L525.42 735.28L526.22 735.91L527.03 736.54L527.84 737.17L528.65 737.80L529.45 738.43L530.26 739.06L531.07 739.68L531.88 740.31L532.70 740.94L533.51 741.56L534.32 742.18L535.13 742.81L535.95 743.43L536.76 744.05L537.58 744.67L538.39 745.29L539.21 745.91L540.02 746.53L540.84 747.15L541.66 747.76L542.48 748.38L543.30 748.99L544.11 749.61L544.93 750.22L545.76 750.84L546.58 751.45L547.40 752.06L548.22 752.67L549.04 753.28L549.87 753.89L550.69 754.50L551.52 755.10L552.34 755.71L553.17 756.32L553.99 756.92L554.82 757.53L555.65 758.13L556.48 758.73L557.30 759.34L558.13 759.94L558.96 760.54L559.79 761.14L560.62 761.74L561.46 762.34L562.29 762.93L563.12 763.53L563.95 764.13L564.79 764.72L565.62 765.32L566.45 765.91L567.29 766.50L568.13 767.10L568.96 767.69L569.80 768.28L570.64 768.87L571.47 769.46L572.31 770.05L573.15 770.63L573.99 771.22L574.83 771.81L575.67 772.39L576.51 772.98L577.35 773.56L578.20 774.14L579.04 774.72L579.88 775.31L580.73 775.89L581.57 776.47L582.42 777.04L583.26 777.62L584.11 778.20L584.96 778.77L585.80 779.35L586.65 779.92L587.50 780.50L588.35 781.07L589.20 781.64L590.05 782.21L590.90 782.78L591.75 783.35L592.60 783.92L593.46 784.49L594.31 785.06L595.16 785.62L596.02 786.19L596.87 786.75L597.73 787.31L598.58 787.88L599.44 788.44L600.30 789.00L601.16 789.56L602.01 790.12L602.87 790.68L603.73 791.24L604.59 791.79L605.45 792.35L606.31 792.91L607.17 793.46L608.03 794.02L608.89 794.57L609.75 795.13L610.61 795.68L611.48 796.24L612.34 796.79L613.20 797.34L614.06 797.90L614.92 798.45L615.78 799.00L616.65 799.56L617.51 800.11L618.37 800.66L619.23 801.22L620.09 801.77L620.96 802.32L621.82 802.88L622.68 803.43L623.54 803.98L624.40 804.54L625.26 805.09L626.13 805.65L626.99 806.20L627.85 806.76L628.71 807.31L629.57 807.87L630.43 808.43L631.29 808.98L632.15 809.54L633.01 810.10L633.86 810.66L634.72 811.22L635.58 811.78L636.44 812.34L637.30 812.90L638.15 813.46L639.01 814.02L639.87 814.58L640.72 815.14L641.58 815.71L642.43 816.27L643.29 816.84L644.14 817.40L644.99 817.97L645.85 818.54L646.70 819.10L647.55 819.67L648.40 820.24L649.25 820.81L650.10 821.38L650.95 821.96L651.80 822.54L652.64 823.12L653.48 823.70L654.31 824.30L655.14 824.90L655.97 825.50L656.79 826.12L657.60 826.75L658.40 827.39L659.19 828.04L659.96 828.71L660.72 829.40L661.45 830.12L662.15 830.87L662.80 831.66L663.38 832.50L663.84 833.42L664.09 834.40L663.97 835.41L663.30 836.16L662.33 836.47L661.31 836.58L660.29 836.58L659.26 836.52L658.24 836.44L657.23 836.33L656.21 836.21L655.19 836.08L654.18 835.95L653.16 835.81L652.15 835.67L651.13 835.52L650.12 835.37L649.11 835.21L648.10 835.04L647.09 834.87L646.08 834.69L645.07 834.51L644.06 834.33L643.06 834.13L642.05 833.94L641.05 833.74L640.04 833.53L639.04 833.32L638.04 833.11L637.04 832.89L636.04 832.66L635.04 832.43L634.04 832.20L633.05 831.97L632.05 831.73L631.06 831.48L630.06 831.24L629.07 830.98L628.08 830.73L627.09 830.47L626.10 830.21L625.11 829.94L624.12 829.67L623.13 829.40L622.14 829.13L621.16 828.85L620.17 828.57L619.19 828.29L618.21 828.00L617.22 827.71L616.24 827.42L615.26 827.13L614.28 826.83L613.30 826.53L612.32 826.23L611.34 825.92L610.37 825.62L609.39 825.31L608.41 825.00L607.44 824.69L606.46 824.37L605.49 824.06L604.51 823.74L603.54 823.42L602.57 823.09L601.60 822.77L600.63 822.44L599.66 822.11L598.69 821.78L597.72 821.45L596.75 821.11L595.79 820.77L594.82 820.43L593.86 820.09L592.89 819.74L591.93 819.40L590.96 819.05L590.00 818.69L589.04 818.34L588.08 817.99L587.12 817.63L586.16 817.27L585.20 816.91L584.25 816.54L583.29 816.17L582.33 815.81L581.38 815.44L580.43 815.06L579.47 814.69L578.52 814.31L577.57 813.93L576.62 813.55L575.67 813.17L574.72 812.78L573.77 812.39L572.82 812.00L571.88 811.61L570.93 811.22L569.99 810.82L569.04 810.42L568.10 810.02L567.16 809.62L566.22 809.22L565.28 808.81L564.34 808.40L563.40 807.99L562.46 807.58L561.53 807.16L560.59 806.74L559.66 806.33L558.72 805.90L557.79 805.48L556.86 805.06L555.93 804.63L555.00 804.20L554.07 803.77L553.14 803.33L552.21 802.90L551.29 802.46L550.36 802.02L549.44 801.58L548.51 801.14L547.59 800.69L546.67 800.24L545.75 799.79L544.83 799.34L543.91 798.89L543.00 798.43L542.08 797.97L541.16 797.51L540.25 797.05L539.34 796.59L538.43 796.12L537.51 795.65L536.60 795.18L535.69 794.71L534.79 794.24L533.88 793.76L532.97 793.28L532.07 792.80L531.16 792.32L530.26 791.84L529.36 791.35L528.46 790.86L527.56 790.38L526.66 789.88L525.76 789.39L524.87 788.90L523.97 788.40L523.08 787.90L522.18 787.40L521.29 786.89L520.40 786.39L519.51 785.88L518.62 785.37L517.73 784.86L516.85 784.35L515.96 783.84L515.08 783.32L514.19 782.80L513.31 782.28L512.43 781.76L511.55 781.24L510.67 780.71L509.79 780.18L508.91 779.65L508.04 779.12L507.16 778.59L506.29 778.06L505.42 777.52L504.55 776.98L503.68 776.44L502.81 775.90L501.94 775.35L501.07 774.81L500.21 774.26L499.34 773.71L498.48 773.16L497.62 772.61L496.75 772.05L495.89 771.50L495.04 770.94L494.18 770.38L493.32 769.82L492.47 769.25L491.61 768.69L490.76 768.12L489.91 767.55L489.06 766.98L488.21 766.41L487.36 765.83L486.51 765.26L485.67 764.68L484.82 764.10L483.98 763.52L483.14 762.94L482.29 762.35L481.46 761.77L480.62 761.18L479.78 760.59L478.94 759.99L478.11 759.40L477.28 758.80L476.45 758.21L475.62 757.61L474.79 757.00L473.96 756.40L473.13 755.79L472.31 755.19L471.49 754.58L470.67 753.96L469.85 753.35L469.03 752.73L468.21 752.11L467.40 751.49L466.58 750.87L465.77 750.25L464.96 749.62L464.15 748.99L463.35 748.36L462.54 747.73L461.74 747.09L460.94 746.45L460.14 745.81L459.34 745.17L458.54 744.53L457.75 743.88L456.95 743.23L456.16 742.58L455.37 741.93L454.59 741.27L453.80 740.61L453.02 739.95L452.24 739.29L451.46 738.63L450.68 737.96L449.91 737.29L449.13 736.62L448.36 735.94L447.59 735.27L446.83 734.59L446.06 733.91L445.30 733.22L444.54 732.54L443.78 731.85L443.03 731.16L442.27 730.46L441.52 729.77L440.77 729.07L440.03 728.37L439.28 727.66L438.54 726.96L437.80 726.25L437.06 725.54L436.33 724.82L435.60 724.11L434.87 723.39L434.14 722.67L433.41 721.94L432.69 721.21L431.97 720.49L431.26 719.75L430.54 719.02L429.83 718.28L429.12 717.54L428.42 716.80L427.71 716.06L427.01 715.31L426.32 714.56L425.62 713.80L424.93 713.05L424.24 712.29L423.56 711.53L422.87 710.77L422.19 710.00L421.52 709.23L420.84 708.46L420.17 707.69L419.50 706.91L418.84 706.13L418.18 705.35L417.52 704.56L416.86 703.78L416.21 702.99L415.56 702.19L414.92 701.40L414.28 700.60L413.64 699.80L413.00 699.00L412.37 698.19L411.74 697.38L411.12 696.57L410.50 695.75L409.88 694.94L409.26 694.12L408.65 693.30L408.05 692.47L407.44 691.64L406.84 690.81L406.25 689.98L405.66 689.14L405.07 688.30L404.49 687.46L403.91 686.61L403.34 685.76L402.77 684.91L402.21 684.06L401.65 683.20L401.10 682.33L400.56 681.47L400.02 680.59L399.48 679.72L398.96 678.84L398.44 677.96L397.92 677.07L397.42 676.18L396.92 675.29L396.43 674.39L395.94 673.49L395.47 672.58L395.00 671.67L394.54 670.75L394.09 669.83L393.65 668.91L393.21 667.98L392.79 667.05L392.38 666.11L391.97 665.17L391.58 664.22L391.19 663.28L390.82 662.32L390.45 661.36L390.10 660.40L389.76 659.44L389.43 658.47L389.11 657.49L388.80 656.52L388.50 655.54L388.22 654.55L387.95 653.57L387.69 652.57L387.44 651.58L387.21 650.58L386.99 649.58L386.78 648.58L386.59 647.57L386.41 646.57L386.24 645.56L386.09 644.54L385.95 643.53L385.82 642.51Z" fill="none" stroke="#0000ff" stroke-width="2.5" stroke-linejoin="round"/></g>
<path d="M384.50 841.20v-3.0M384.50 614.60v3.0M416.73 841.20v-3.0M416.73 614.60v3.0M448.97 841.20v-3.0M448.97 614.60v3.0M481.20 841.20v-3.0M481.20 614.60v3.0M513.43 841.20v-3.0M513.43 614.60v3.0M545.67 841.20v-3.0M545.67 614.60v3.0M577.90 841.20v-3.0M577.90 614.60v3.0M610.13 841.20v-3.0M610.13 614.60v3.0M642.37 841.20v-3.0M642.37 614.60v3.0M674.60 841.20v-3.0M674.60 614.60v3.0M384.50 841.20h3.0M674.60 841.20h-3.0M384.50 812.88h3.0M674.60 812.88h-3.0M384.50 784.55h3.0M674.60 784.55h-3.0M384.50 756.23h3.0M674.60 756.23h-3.0M384.50 727.90h3.0M674.60 727.90h-3.0M384.50 699.58h3.0M674.60 699.58h-3.0M384.50 671.25h3.0M674.60 671.25h-3.0M384.50 642.92h3.0M674.60 642.92h-3.0M384.50 614.60h3.0M674.60 614.60h-3.0" stroke="#000" stroke-width="1.1" fill="none"/>
<rect x="384.50" y="614.60" width="290.10" height="226.60" fill="none" stroke="#000" stroke-width="1"/>
<g class="tl"><text x="384.50" y="854.40" text-anchor="middle">0.35</text><text x="416.73" y="854.40" text-anchor="middle">0.4</text><text x="448.97" y="854.40" text-anchor="middle">0.45</text><text x="481.20" y="854.40" text-anchor="middle">0.5</text><text x="513.43" y="854.40" text-anchor="middle">0.55</text><text x="545.67" y="854.40" text-anchor="middle">0.6</text><text x="577.90" y="854.40" text-anchor="middle">0.65</text><text x="610.13" y="854.40" text-anchor="middle">0.7</text><text x="642.37" y="854.40" text-anchor="middle">0.75</text><text x="674.60" y="854.40" text-anchor="middle">0.8</text><text x="381.40" y="845.00" text-anchor="end">0.4</text><text x="381.40" y="816.67" text-anchor="end">0.5</text><text x="381.40" y="788.35" text-anchor="end">0.6</text><text x="381.40" y="760.02" text-anchor="end">0.7</text><text x="381.40" y="731.70" text-anchor="end">0.8</text><text x="381.40" y="703.38" text-anchor="end">0.9</text><text x="381.40" y="675.05" text-anchor="end">1</text><text x="381.40" y="646.72" text-anchor="end">1.1</text><text x="381.40" y="618.40" text-anchor="end">1.2</text></g>
<text class="al" x="529.55" y="871.70" text-anchor="middle">x</text>
<text class="al" x="0" y="0" text-anchor="middle" transform="translate(362.10 727.20) rotate(-90)">y</text>
<text class="cap" x="515.40" y="898.20" text-anchor="middle">(f)</text>
</svg>
</body></html>
